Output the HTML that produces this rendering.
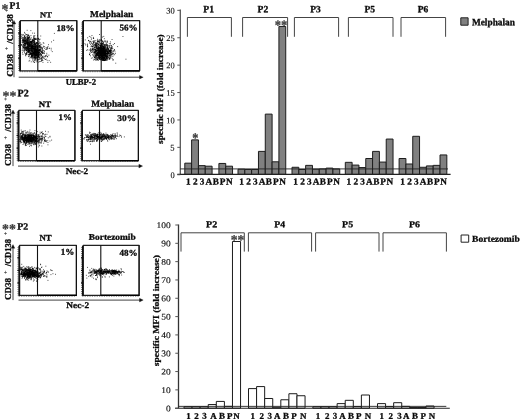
<!DOCTYPE html>
<html><head><meta charset="utf-8"><title>Figure</title>
<style>html,body{margin:0;padding:0;background:#fff}svg{display:block}</style></head>
<body>
<svg width="520" height="419" viewBox="0 0 520 419" font-family='"Liberation Serif", "DejaVu Serif", serif' fill="#0a0a0a" stroke="#0a0a0a" stroke-width="0.3" stroke-linejoin="round">
<rect width="520" height="419" fill="#fff" stroke="none"/>
<rect x="20.4" y="20.6" width="56.4" height="50.199999999999996" fill="#fff" stroke="#222" stroke-width="1.2"/>
<path d="M37.8 20.6 V70.8 H76.8 V20.6" fill="none" stroke="#111" stroke-width="1.1"/>
<line x1="37.8" y1="70.8" x2="76.8" y2="70.8" stroke="#000" stroke-width="1.3"/>
<line x1="20.0" y1="21.1" x2="20.0" y2="71.3" stroke="#111" stroke-width="1.7"/>
<line x1="18.799999999999997" y1="22.6" x2="18.799999999999997" y2="70.8" stroke="#111" stroke-width="1" stroke-dasharray="0.8 1.1" opacity="0.75"/>
<line x1="18.2" y1="33.1" x2="20.4" y2="33.1" stroke="#111" stroke-width="1.3"/>
<line x1="18.2" y1="45.7" x2="20.4" y2="45.7" stroke="#111" stroke-width="1.3"/>
<line x1="18.2" y1="58.2" x2="20.4" y2="58.2" stroke="#111" stroke-width="1.3"/>
<line x1="19.4" y1="71.7" x2="76.8" y2="71.7" stroke="#222" stroke-width="0.9" stroke-dasharray="1.3 1.1" opacity="0.55"/>
<path d="M39.4 59.5h.9M31.4 43.1h.9M23.9 43.3h.9M24.4 35.5h.9M32.3 48.4h.9M34.6 44.0h.9M31.0 46.7h.9M21.2 44.5h.9M33.1 61.1h.9M32.3 46.9h.9M39.0 52.5h.9M36.9 48.3h.9M32.4 53.3h.9M35.5 50.2h.9M24.0 45.5h.9M31.5 51.2h.9M32.4 53.7h.9M30.7 47.9h.9M35.3 43.5h.9M28.4 42.8h.9M43.9 53.6h.9M35.2 52.7h.9M29.2 37.6h.9M37.3 48.2h.9M35.7 42.5h.9M28.2 52.3h.9M40.3 45.0h.9M22.3 42.0h.9M35.7 50.5h.9M33.0 42.7h.9M34.8 55.2h.9M28.2 37.7h.9M26.1 48.4h.9M24.6 42.7h.9M29.4 46.2h.9M40.8 54.7h.9M39.7 51.0h.9M27.9 47.3h.9M32.0 40.9h.9M34.0 45.6h.9M24.6 40.7h.9M30.0 53.2h.9M31.7 47.2h.9M33.5 38.6h.9M39.1 45.6h.9M33.9 42.5h.9M24.7 41.4h.9M43.3 57.6h.9M27.1 43.3h.9M23.5 42.7h.9M27.3 48.9h.9M22.2 40.3h.9M25.5 40.1h.9M35.6 50.2h.9M34.8 55.5h.9M38.5 43.7h.9M34.5 39.4h.9M30.6 57.2h.9M29.7 44.3h.9M32.1 47.7h.9M31.2 43.0h.9M38.0 55.7h.9M29.6 47.9h.9M35.3 55.0h.9M33.6 52.2h.9M29.3 40.3h.9M27.8 50.8h.9M37.4 51.3h.9M27.3 46.6h.9M41.8 60.3h.9M26.6 44.3h.9M21.6 35.6h.9M32.2 47.8h.9M37.3 57.3h.9M36.4 57.1h.9M27.4 38.9h.9M33.3 42.0h.9M32.6 55.6h.9M24.3 47.7h.9M27.0 51.7h.9M36.1 51.5h.9M44.0 51.9h.9M26.5 54.6h.9M25.3 55.8h.9M30.7 41.2h.9M31.0 47.7h.9M32.3 46.7h.9M38.0 38.3h.9M27.4 43.6h.9M42.8 42.7h.9M28.8 39.6h.9M26.7 48.1h.9M33.7 56.3h.9M27.1 46.3h.9M38.6 56.1h.9M28.8 51.9h.9M25.0 53.5h.9M32.0 46.9h.9M32.8 52.6h.9M42.3 52.5h.9M28.6 48.9h.9M25.3 34.7h.9M36.4 47.9h.9M38.3 45.5h.9M32.0 56.2h.9M34.4 50.6h.9M34.8 47.1h.9M31.5 39.9h.9M34.4 44.5h.9M28.1 49.2h.9M37.0 44.8h.9M44.0 51.0h.9M36.4 55.1h.9M32.5 48.7h.9M42.7 58.3h.9M33.9 38.7h.9M26.1 50.6h.9M32.3 42.5h.9M26.8 43.0h.9M35.5 51.6h.9M37.5 46.1h.9M37.4 47.8h.9M29.1 55.3h.9M31.5 46.5h.9M29.6 44.2h.9M41.1 60.0h.9M35.7 50.6h.9M37.8 50.3h.9M33.9 50.8h.9M31.6 56.3h.9M42.4 60.5h.9M35.6 47.1h.9M30.8 53.1h.9M38.6 55.8h.9M31.9 47.7h.9M36.4 49.5h.9M25.2 40.4h.9M30.1 48.3h.9M45.7 47.7h.9M34.1 48.2h.9M33.0 55.4h.9M39.1 50.6h.9M27.4 37.6h.9M30.5 53.5h.9M29.3 49.9h.9M35.6 51.7h.9M38.0 50.3h.9M25.6 37.7h.9M37.0 48.3h.9M29.0 50.4h.9M25.9 53.8h.9M35.3 46.5h.9M26.9 50.6h.9M23.3 39.3h.9M31.0 48.1h.9M31.1 49.2h.9M28.6 45.0h.9M39.2 55.0h.9M28.1 54.7h.9M35.3 54.7h.9M31.7 45.3h.9M34.8 48.0h.9M34.1 33.2h.9M33.5 44.1h.9M37.1 54.4h.9M35.7 47.4h.9M33.8 46.7h.9M32.4 47.0h.9M25.3 54.6h.9M35.7 38.4h.9M36.8 42.6h.9M29.5 43.0h.9M27.5 46.4h.9M28.9 38.0h.9M31.0 49.0h.9M42.5 51.1h.9M23.3 40.7h.9M35.2 44.5h.9M26.3 47.4h.9M30.9 48.2h.9M26.9 40.3h.9M28.9 45.0h.9M28.8 48.1h.9M34.6 51.9h.9M34.1 43.9h.9M23.7 47.4h.9M31.1 47.7h.9M23.5 41.7h.9M26.9 40.0h.9M26.9 36.6h.9M31.6 53.6h.9M26.4 45.0h.9M23.9 46.7h.9M43.1 47.0h.9M29.5 53.9h.9M33.4 48.9h.9M37.0 58.1h.9M35.2 46.1h.9M26.5 34.7h.9M24.0 49.2h.9M30.3 39.3h.9M39.6 42.6h.9M39.2 49.8h.9M33.2 51.9h.9M32.7 54.8h.9M31.1 45.3h.9M26.7 36.8h.9M26.5 49.8h.9M36.4 57.5h.9M48.7 60.6h.9M34.3 41.7h.9M29.4 58.1h.9M34.4 48.1h.9M33.0 37.8h.9M25.6 36.9h.9M37.3 49.5h.9M33.3 42.8h.9M33.9 52.8h.9M41.0 61.0h.9M34.2 48.1h.9M25.6 40.8h.9M35.0 52.3h.9M31.1 56.1h.9M35.2 49.4h.9M29.8 46.7h.9M24.8 38.3h.9M33.3 45.1h.9M29.2 52.7h.9M29.7 53.4h.9M30.9 55.2h.9M34.0 39.1h.9M39.0 50.3h.9M32.0 40.5h.9M27.1 47.8h.9M40.2 58.2h.9M38.9 57.5h.9M32.2 33.1h.9M36.0 54.6h.9M26.0 42.2h.9M24.9 43.5h.9M30.7 46.8h.9M24.4 45.5h.9M28.8 50.9h.9M33.0 40.1h.9M21.6 42.2h.9M27.8 47.8h.9M36.2 50.0h.9M34.7 43.3h.9M38.2 50.5h.9M34.4 44.1h.9M30.4 30.6h.9M29.6 49.4h.9M25.2 39.2h.9M30.7 47.2h.9M25.7 47.8h.9M21.9 37.5h.9M39.7 46.4h.9M25.0 37.7h.9M26.4 40.5h.9M24.7 37.9h.9M41.5 49.1h.9M37.3 42.8h.9M34.5 42.2h.9M28.0 48.8h.9M27.6 34.4h.9M27.4 44.2h.9M34.7 43.6h.9M29.1 46.3h.9M25.6 46.4h.9M30.3 45.7h.9M28.6 40.6h.9M27.7 38.3h.9M32.1 51.2h.9M34.9 46.3h.9M41.9 57.6h.9M24.8 42.9h.9M35.6 56.4h.9M28.3 35.8h.9M29.9 53.8h.9M31.9 54.4h.9M36.4 58.4h.9M34.9 45.5h.9M33.9 62.4h.9M27.6 35.1h.9M44.7 56.7h.9M26.9 41.5h.9M21.0 45.3h.9M31.9 44.1h.9M28.2 43.2h.9M37.9 49.8h.9M40.0 47.4h.9M27.0 42.2h.9M27.5 44.6h.9M37.7 57.2h.9M24.0 50.1h.9M31.6 56.0h.9M29.9 41.9h.9M36.1 53.2h.9M28.0 45.5h.9M31.8 49.2h.9M31.4 48.6h.9M27.6 35.6h.9M39.7 50.1h.9M24.2 51.9h.9M38.4 56.7h.9M36.4 53.1h.9M24.7 43.7h.9M33.3 51.7h.9M34.1 43.2h.9M27.1 43.0h.9M29.7 41.6h.9M33.0 48.0h.9M34.8 38.8h.9M28.3 50.3h.9M31.2 44.0h.9M32.0 47.0h.9M36.9 56.6h.9M36.9 52.1h.9M36.0 54.1h.9M38.6 41.2h.9M33.2 48.7h.9M32.0 46.2h.9M30.5 49.4h.9M32.3 48.4h.9M24.0 36.3h.9M26.1 34.6h.9M27.6 40.5h.9M27.9 42.2h.9M45.1 59.5h.9M25.9 41.5h.9M24.4 39.1h.9M28.7 45.5h.9M26.9 49.2h.9M35.2 59.9h.9M22.5 46.0h.9M28.6 36.9h.9M29.0 37.0h.9M30.8 61.8h.9M39.5 61.5h.9M38.8 42.9h.9M33.7 49.3h.9M33.8 42.9h.9M38.8 52.9h.9M27.8 46.2h.9M22.9 47.8h.9M32.1 46.8h.9M28.2 45.1h.9M31.9 45.3h.9M37.3 51.6h.9M30.4 42.0h.9M38.9 58.4h.9M35.5 39.5h.9M28.7 51.1h.9M31.2 54.1h.9M28.1 49.8h.9M34.4 35.6h.9M28.4 44.3h.9M26.9 39.9h.9M41.3 52.0h.9M36.1 42.6h.9M33.6 44.5h.9M34.4 53.3h.9M28.1 45.1h.9M26.2 50.2h.9M42.5 56.0h.9M27.7 41.4h.9M29.2 50.8h.9M26.1 52.3h.9M23.1 42.6h.9M39.6 61.4h.9M28.4 49.8h.9M47.4 62.4h.9M46.4 49.2h.9M36.9 38.9h.9M41.3 48.1h.9M36.3 54.8h.9M33.1 39.9h.9M30.9 41.8h.9M39.7 49.0h.9M25.1 47.2h.9M38.9 50.5h.9M32.8 50.7h.9M27.8 38.8h.9M34.5 47.0h.9M22.1 46.7h.9M33.8 49.3h.9M26.1 43.1h.9M35.0 51.8h.9M25.6 39.2h.9M33.2 49.2h.9M36.5 43.7h.9M37.0 59.9h.9M37.2 51.1h.9M36.9 43.3h.9M28.1 56.6h.9M36.3 46.4h.9M27.3 38.9h.9M41.9 49.7h.9M29.2 36.2h.9M36.0 49.7h.9M34.2 57.4h.9M32.0 41.1h.9M24.4 43.8h.9M39.6 45.2h.9M29.4 45.3h.9M35.3 44.5h.9M33.0 52.4h.9M30.8 46.3h.9M35.0 52.4h.9M39.2 45.6h.9M39.0 50.2h.9M23.6 39.9h.9M23.0 41.5h.9M37.7 38.5h.9M23.3 46.9h.9M29.0 50.2h.9M22.4 42.0h.9M35.8 56.2h.9M41.6 52.5h.9M25.3 41.8h.9M38.7 46.3h.9M42.9 46.2h.9M34.6 44.6h.9M23.5 49.3h.9M25.2 44.4h.9M27.9 46.0h.9M26.9 49.2h.9M35.0 49.6h.9M30.2 57.2h.9M26.5 42.1h.9M36.0 49.7h.9M28.5 40.2h.9M32.3 41.5h.9M29.4 39.9h.9M41.2 51.0h.9M33.9 50.1h.9M35.6 48.7h.9M35.9 50.4h.9M22.6 47.5h.9M32.4 45.8h.9M23.3 40.7h.9M22.0 52.8h.9M34.0 48.2h.9M24.6 41.6h.9M29.5 43.7h.9M30.5 51.1h.9M38.2 43.5h.9M29.8 44.2h.9M23.6 48.1h.9M28.9 52.0h.9M33.7 47.0h.9M32.9 46.0h.9M33.4 54.6h.9M36.4 49.7h.9M26.7 43.6h.9M31.4 42.3h.9M30.2 46.6h.9M40.5 51.7h.9M46.3 49.0h.9M30.1 53.2h.9M33.6 45.1h.9M29.4 54.5h.9M28.1 46.9h.9M33.8 55.1h.9M22.3 40.7h.9M35.0 53.7h.9M29.1 54.2h.9M30.5 50.5h.9M26.1 48.8h.9M26.3 50.7h.9M36.6 60.2h.9M28.2 39.2h.9M36.4 51.7h.9M27.6 37.8h.9M36.2 39.3h.9M28.0 51.1h.9M29.4 48.6h.9M34.2 52.0h.9M37.9 54.3h.9M28.6 39.0h.9M29.1 42.4h.9M33.6 55.1h.9M36.1 46.0h.9M32.3 47.7h.9M27.9 52.4h.9M35.0 51.2h.9M26.2 50.6h.9M29.6 46.1h.9M29.3 48.7h.9M30.9 56.3h.9M30.2 45.1h.9M40.2 56.2h.9M35.5 52.4h.9M30.7 48.6h.9M34.5 49.5h.9M27.9 42.2h.9M28.8 41.9h.9M25.3 43.4h.9M36.7 48.6h.9M34.1 41.4h.9M35.9 43.5h.9M35.5 45.5h.9M27.1 38.0h.9M22.7 41.2h.9M24.7 42.3h.9M38.4 46.5h.9M28.9 45.3h.9M27.0 44.6h.9M32.5 53.5h.9M26.3 43.2h.9M30.0 53.0h.9M24.5 44.3h.9M36.0 52.9h.9M26.4 38.9h.9M29.3 38.0h.9M36.5 50.9h.9M29.4 43.3h.9M34.1 47.1h.9M34.3 46.2h.9M37.9 41.9h.9M24.0 52.9h.9M37.8 59.6h.9M25.8 48.1h.9M37.5 55.5h.9M29.8 54.3h.9M33.7 41.5h.9M47.0 56.5h.9M39.2 47.7h.9M24.9 48.5h.9M36.3 45.9h.9M32.6 40.7h.9M23.6 46.9h.9M37.9 52.8h.9M40.9 54.4h.9M32.9 48.1h.9M33.7 50.4h.9M24.9 43.4h.9M28.6 61.1h.9M39.0 47.1h.9M34.9 39.6h.9M31.4 57.1h.9M31.5 54.3h.9M28.6 48.2h.9M33.4 36.4h.9M25.8 54.4h.9M25.6 50.6h.9M42.2 52.9h.9M37.5 52.6h.9M27.1 48.0h.9M33.8 43.2h.9M28.1 38.1h.9M28.8 45.6h.9M24.6 33.4h.9M35.4 56.3h.9M25.1 44.1h.9M26.7 30.3h.9M44.7 56.1h.9M21.9 48.9h.9M35.7 57.3h.9M35.8 52.5h.9M40.3 50.6h.9M32.6 42.0h.9M23.6 44.0h.9M32.5 39.2h.9M33.4 53.8h.9M22.8 40.7h.9M42.1 48.5h.9M34.7 53.3h.9M32.2 48.4h.9M34.7 50.6h.9M32.0 39.5h.9M32.6 43.6h.9M38.2 39.3h.9M37.5 51.2h.9M23.9 36.5h.9M37.9 47.3h.9M30.5 47.1h.9M37.1 35.8h.9M39.0 47.0h.9M28.4 48.9h.9M33.4 35.8h.9M34.9 48.3h.9M24.3 40.0h.9M40.6 48.9h.9M27.9 37.4h.9M26.4 38.9h.9M31.1 56.5h.9M37.8 56.1h.9M24.7 48.1h.9M26.3 39.6h.9M35.8 49.1h.9M47.2 56.9h.9M29.0 50.0h.9M23.5 46.5h.9M41.2 51.8h.9M27.7 51.3h.9M23.7 45.0h.9M27.6 46.7h.9M25.9 47.5h.9M34.6 58.5h.9M28.6 48.1h.9M32.7 40.5h.9M30.3 41.7h.9M34.1 52.0h.9M27.9 48.9h.9M27.4 45.6h.9M34.4 51.9h.9M34.9 58.3h.9M26.8 43.8h.9M23.7 39.8h.9M27.7 47.4h.9M29.2 44.4h.9M31.5 45.5h.9M30.9 41.6h.9M27.4 38.4h.9M36.6 55.0h.9M35.3 51.2h.9M27.1 47.9h.9M23.3 50.9h.9M32.6 56.3h.9M26.4 49.9h.9M41.3 58.1h.9M32.9 53.9h.9M28.0 54.9h.9M23.5 38.7h.9M31.1 42.9h.9M42.4 56.9h.9M26.2 53.5h.9M39.8 49.8h.9M41.2 59.0h.9M27.7 42.2h.9M33.0 54.4h.9M41.2 60.8h.9M27.9 35.6h.9M37.9 57.2h.9M31.0 47.5h.9M34.2 51.2h.9M31.5 42.0h.9M22.1 42.9h.9M30.0 54.1h.9M24.1 32.4h.9M41.9 51.1h.9M26.4 46.5h.9M41.0 58.4h.9M36.7 55.2h.9M29.1 46.4h.9M33.7 58.3h.9M33.4 47.0h.9M30.2 45.1h.9M24.8 46.3h.9M39.4 49.7h.9M33.9 54.6h.9M26.7 44.2h.9M22.5 50.9h.9M42.2 52.1h.9M44.0 58.8h.9M32.6 50.6h.9M35.4 47.0h.9M38.4 52.8h.9M43.3 53.2h.9M34.6 39.0h.9M27.0 40.5h.9M37.1 46.9h.9M38.6 48.4h.9M37.2 47.1h.9M23.2 45.9h.9M29.5 49.0h.9M28.7 56.5h.9M33.6 39.3h.9M33.2 41.3h.9M37.4 55.2h.9M45.0 55.7h.9M27.8 49.7h.9M22.2 39.7h.9M24.5 40.3h.9M22.6 34.5h.9M23.8 45.1h.9M31.2 46.7h.9M34.1 52.8h.9M34.1 60.0h.9M32.9 50.1h.9M27.8 51.2h.9M40.3 36.0h.9M36.3 44.0h.9M33.3 48.7h.9M22.8 35.1h.9M29.3 60.3h.9M22.9 40.4h.9M29.1 44.5h.9M38.3 62.2h.9M30.7 49.1h.9M28.9 54.4h.9M30.6 50.5h.9M29.7 52.4h.9M30.6 42.2h.9M43.4 43.3h.9M32.1 45.7h.9M25.1 55.1h.9M33.2 46.0h.9M25.2 45.7h.9M31.0 45.7h.9M26.7 52.9h.9M32.4 46.8h.9M22.8 38.3h.9M35.8 45.5h.9M35.2 48.7h.9M33.6 50.3h.9M28.2 44.0h.9M30.6 50.3h.9M46.7 60.3h.9M22.5 54.4h.9M30.2 42.8h.9M31.8 47.1h.9M32.7 47.7h.9M30.8 53.8h.9M42.0 53.6h.9M41.3 57.8h.9M38.8 52.7h.9M32.4 52.1h.9M24.7 43.9h.9M23.6 47.9h.9M32.4 51.0h.9M28.8 41.6h.9M37.3 48.1h.9M29.6 46.4h.9M34.0 49.0h.9M24.2 37.6h.9M37.6 48.9h.9M29.4 41.3h.9M37.1 52.9h.9M27.5 35.7h.9M42.7 50.4h.9M23.4 40.2h.9M23.6 42.9h.9M27.4 38.6h.9M35.4 44.8h.9M27.4 39.1h.9M27.1 42.2h.9M27.7 52.1h.9M37.9 52.5h.9M34.7 46.5h.9M21.5 44.7h.9M40.0 48.1h.9M26.5 40.7h.9M22.4 45.3h.9M23.9 50.6h.9M41.8 53.4h.9M30.7 42.2h.9M36.9 50.7h.9M21.3 36.6h.9M34.1 46.0h.9M33.9 49.9h.9M40.3 51.6h.9M37.9 56.8h.9M39.6 49.9h.9M32.8 61.8h.9M29.7 43.0h.9M31.8 41.0h.9M25.5 41.6h.9M29.2 51.4h.9M23.9 42.1h.9M32.7 46.3h.9M35.8 61.8h.9M24.0 38.4h.9M27.7 42.2h.9M27.5 47.4h.9M30.5 35.6h.9M41.1 52.7h.9M28.3 51.5h.9M30.3 45.4h.9M25.3 48.9h.9M36.5 45.4h.9M27.4 51.7h.9M26.3 42.2h.9M26.0 43.0h.9M36.6 50.4h.9M37.5 53.8h.9M30.9 37.9h.9M36.1 49.5h.9M27.7 48.0h.9M37.3 54.4h.9M27.6 44.9h.9M46.9 48.7h.9M31.5 47.4h.9M40.8 55.7h.9M32.4 46.2h.9M39.1 51.8h.9M30.4 47.6h.9M35.5 49.7h.9M32.7 52.2h.9M26.3 43.1h.9M31.5 51.0h.9M34.6 46.4h.9M24.3 41.3h.9M27.7 50.0h.9M35.1 49.6h.9M24.0 36.1h.9M31.8 50.8h.9M33.4 47.0h.9M34.7 38.3h.9M38.5 59.3h.9M32.1 48.9h.9M29.7 51.1h.9M25.1 40.6h.9M33.6 40.7h.9M34.2 51.2h.9M30.9 44.3h.9M42.4 50.3h.9M32.0 51.9h.9M30.9 52.6h.9M31.0 48.4h.9M31.0 50.5h.9M26.8 49.5h.9M37.7 45.0h.9M21.3 34.4h.9M25.8 47.9h.9M31.4 57.4h.9M41.3 44.3h.9M28.5 44.0h.9M41.4 57.0h.9M37.0 45.9h.9M44.2 48.3h.9M31.2 41.9h.9M25.2 45.2h.9M25.2 47.5h.9M34.4 49.2h.9M35.1 55.4h.9M38.1 44.7h.9M35.2 54.2h.9M28.6 43.6h.9M38.8 54.9h.9M31.9 55.3h.9M37.1 59.7h.9M28.5 51.0h.9M41.9 47.7h.9M30.0 44.6h.9M34.1 54.9h.9M41.4 51.9h.9M33.2 53.0h.9M38.5 49.6h.9M39.8 44.0h.9M32.8 40.5h.9M28.0 41.1h.9M42.5 62.4h.9M36.1 50.7h.9M32.2 51.6h.9M34.3 44.9h.9M26.0 47.2h.9M45.8 59.1h.9M30.8 46.3h.9M33.9 50.3h.9M21.7 50.3h.9M34.0 51.7h.9M28.1 51.4h.9M37.6 46.7h.9M37.7 46.8h.9M24.6 40.5h.9M24.9 43.3h.9M28.7 46.6h.9M34.1 57.5h.9M34.0 51.4h.9M34.2 53.2h.9M36.9 51.8h.9M23.4 37.6h.9M32.9 46.3h.9M28.3 42.7h.9M26.3 50.4h.9M36.1 42.9h.9M32.2 47.6h.9M28.0 51.0h.9M33.1 48.5h.9M25.4 49.1h.9M32.6 49.4h.9M26.5 52.6h.9M24.3 40.6h.9M28.8 46.9h.9M39.8 54.9h.9M31.8 46.6h.9M33.5 52.7h.9M26.2 53.9h.9M30.9 51.6h.9M28.5 53.0h.9M37.6 52.4h.9M35.1 47.6h.9M25.1 50.0h.9M23.2 39.9h.9M23.4 37.7h.9M28.3 50.1h.9M24.7 47.5h.9M25.4 47.5h.9M39.6 39.2h.9M31.5 56.0h.9M31.2 56.0h.9M38.5 52.7h.9M21.9 38.4h.9M41.0 47.7h.9M24.0 40.7h.9M39.2 52.1h.9M21.1 38.2h.9M35.4 55.7h.9M40.9 55.2h.9M34.0 43.4h.9M27.3 37.6h.9M30.1 48.7h.9M31.3 42.1h.9M34.7 54.0h.9M39.0 39.7h.9M34.5 54.5h.9M35.7 49.8h.9M32.6 46.6h.9M26.6 39.2h.9M34.6 52.0h.9M36.8 49.9h.9M37.1 61.2h.9M26.9 41.6h.9M24.5 41.5h.9M23.0 44.4h.9M35.3 56.0h.9M39.4 49.6h.9M32.2 43.4h.9M31.4 47.7h.9M34.3 48.5h.9M24.1 48.6h.9M30.1 39.0h.9M40.8 55.3h.9M36.3 53.0h.9M27.1 46.1h.9M35.2 50.1h.9M38.0 50.0h.9M31.6 44.0h.9M27.7 43.2h.9M32.3 40.9h.9M31.7 45.5h.9M35.2 47.6h.9M35.1 44.5h.9M33.3 46.7h.9M37.9 52.8h.9M37.6 48.1h.9M27.1 44.7h.9M24.4 41.9h.9M39.1 45.7h.9M27.3 45.4h.9M27.4 42.6h.9M32.7 44.4h.9M33.4 49.9h.9M34.5 50.0h.9M27.0 48.2h.9M30.8 47.8h.9M24.0 43.6h.9M30.7 42.2h.9M26.1 42.0h.9M31.1 43.7h.9M24.0 43.5h.9M23.2 44.4h.9M25.5 42.9h.9M38.2 39.0h.9M22.4 39.5h.9M30.1 41.8h.9M24.9 40.4h.9M24.5 44.0h.9M26.6 43.7h.9M31.2 50.8h.9M27.0 42.5h.9M33.7 36.9h.9M31.4 42.4h.9M36.6 48.3h.9M25.4 49.5h.9M27.5 40.3h.9M33.9 38.2h.9M29.9 50.1h.9M23.0 47.6h.9M29.0 43.0h.9M39.6 49.9h.9M33.3 38.1h.9M31.4 49.2h.9M26.1 40.9h.9M29.7 41.9h.9M36.5 53.1h.9M35.6 55.0h.9M31.1 44.0h.9M23.5 45.5h.9M24.5 37.0h.9M46.3 53.3h.9M32.0 50.6h.9M34.8 48.5h.9M34.2 48.2h.9M28.0 43.9h.9M34.9 52.8h.9M33.7 40.4h.9M29.6 48.9h.9M28.5 48.2h.9M31.7 53.7h.9M37.8 54.3h.9M27.7 44.0h.9M28.7 48.0h.9M35.7 46.5h.9M37.8 53.2h.9M30.1 42.9h.9M31.5 47.0h.9M30.4 45.2h.9M32.8 44.8h.9M34.5 39.4h.9M31.4 44.6h.9M28.5 47.1h.9M21.7 40.7h.9M29.2 43.4h.9M26.8 48.3h.9M31.0 41.4h.9M25.5 49.0h.9M31.7 49.3h.9M31.1 48.2h.9M27.5 39.8h.9M24.7 38.9h.9M42.3 56.5h.9M31.3 46.6h.9M27.8 37.7h.9M40.4 46.9h.9M29.3 45.2h.9M31.3 55.1h.9M31.7 53.5h.9M32.2 57.9h.9M35.1 57.6h.9M33.7 54.5h.9M36.3 54.2h.9M34.3 56.7h.9M35.9 54.2h.9M37.0 47.3h.9M32.4 55.2h.9M34.1 53.3h.9M31.4 53.1h.9M38.4 52.8h.9M32.5 53.3h.9M37.6 52.4h.9M31.0 54.6h.9M34.1 54.4h.9M30.8 51.3h.9M34.2 54.8h.9M39.3 57.4h.9M37.8 56.3h.9M37.6 55.6h.9M36.6 53.0h.9M33.8 57.2h.9M32.1 52.6h.9M34.4 54.5h.9M33.3 52.9h.9M33.0 52.2h.9M34.0 62.2h.9M32.1 60.0h.9M31.9 54.4h.9M34.8 55.5h.9M34.2 51.3h.9M33.6 53.2h.9M31.3 53.8h.9M35.2 50.3h.9M31.7 56.0h.9M32.7 52.4h.9M33.5 52.4h.9M36.3 54.5h.9M40.2 53.1h.9M35.9 52.3h.9M37.3 50.3h.9M32.9 53.5h.9M41.8 59.4h.9M39.9 54.0h.9M31.2 55.4h.9M37.6 52.3h.9M39.8 58.8h.9M30.8 53.0h.9M34.3 53.4h.9M34.6 54.1h.9M34.4 60.3h.9M33.8 51.0h.9M37.9 56.5h.9M32.2 51.8h.9M32.8 48.7h.9M31.8 55.1h.9M31.7 53.4h.9M34.3 52.5h.9M36.2 54.4h.9M38.1 54.8h.9M33.5 58.1h.9M35.7 55.2h.9M35.7 53.2h.9M32.7 57.1h.9M33.2 53.2h.9M37.2 56.5h.9M35.1 58.9h.9M34.5 59.8h.9M38.4 54.5h.9M34.4 56.8h.9M30.8 55.8h.9M36.7 57.9h.9M38.5 54.8h.9M36.2 51.6h.9M36.4 52.1h.9M31.6 58.3h.9M39.4 53.7h.9M35.8 59.9h.9M31.7 57.8h.9M34.2 55.6h.9M34.8 57.8h.9M38.0 53.6h.9M38.0 56.4h.9M38.5 51.4h.9M37.2 54.0h.9M35.6 50.2h.9M40.3 53.9h.9M36.1 50.4h.9M34.5 54.5h.9M35.3 51.3h.9M35.9 53.0h.9M37.2 51.2h.9M37.9 51.5h.9M32.2 55.2h.9M36.5 55.1h.9M33.6 53.3h.9M32.7 56.8h.9M30.6 51.0h.9M32.1 55.3h.9M31.3 56.0h.9M30.8 49.7h.9M35.8 55.0h.9M34.1 57.3h.9M33.9 52.7h.9M34.5 57.3h.9M34.6 58.7h.9M38.4 56.7h.9M37.3 57.2h.9M36.2 48.1h.9M35.5 53.7h.9M32.1 49.3h.9M35.3 51.3h.9M35.0 52.0h.9M35.8 51.6h.9M35.6 53.9h.9M33.9 53.3h.9M35.7 47.4h.9M30.2 54.2h.9M35.1 54.6h.9M35.8 51.6h.9M38.2 55.9h.9M35.9 53.4h.9M33.2 52.5h.9M35.9 54.3h.9M37.1 54.6h.9M33.9 56.9h.9M31.5 50.6h.9M35.9 52.8h.9M31.4 50.3h.9M35.0 57.4h.9M38.5 53.7h.9M34.4 51.9h.9M39.7 53.8h.9M34.1 55.9h.9M37.9 54.1h.9M38.1 50.9h.9M36.1 55.5h.9M36.0 55.6h.9M35.4 55.4h.9M29.8 52.2h.9M37.1 51.2h.9M32.8 59.0h.9M35.2 54.7h.9M35.9 58.3h.9M34.3 51.9h.9M35.7 57.5h.9M30.6 53.7h.9M34.0 54.3h.9M36.6 54.8h.9M31.1 53.4h.9M34.7 53.9h.9M37.6 53.2h.9M33.4 53.6h.9M35.1 55.7h.9M30.7 50.6h.9M34.8 56.3h.9M34.9 54.6h.9M39.3 54.3h.9M47.0 47.7h.9M51.8 51.6h.9M43.2 53.0h.9M48.1 44.7h.9M50.2 62.3h.9M37.4 40.6h.9M44.2 46.6h.9M46.7 47.8h.9M46.1 55.9h.9M53.9 33.4h.9M48.8 48.2h.9M48.8 48.4h.9M47.5 46.5h.9M40.5 46.9h.9M50.7 48.3h.9M44.5 56.7h.9M51.0 41.9h.9M39.5 46.8h.9M48.4 55.2h.9M33.1 57.3h.9M45.4 49.5h.9M50.8 50.0h.9M46.4 54.9h.9M53.2 40.3h.9M34.0 40.7h.9" stroke="#000" stroke-width="0.9" fill="none" opacity="0.8"/>
<rect x="83.4" y="20.6" width="56.19999999999999" height="50.199999999999996" fill="#fff" stroke="#222" stroke-width="1.2"/>
<path d="M101.2 20.6 V70.8 H139.6 V20.6" fill="none" stroke="#111" stroke-width="1.1"/>
<line x1="101.2" y1="70.8" x2="139.6" y2="70.8" stroke="#000" stroke-width="1.3"/>
<line x1="83.0" y1="21.1" x2="83.0" y2="71.3" stroke="#111" stroke-width="1.7"/>
<line x1="81.80000000000001" y1="22.6" x2="81.80000000000001" y2="70.8" stroke="#111" stroke-width="1" stroke-dasharray="0.8 1.1" opacity="0.75"/>
<line x1="81.2" y1="33.1" x2="83.4" y2="33.1" stroke="#111" stroke-width="1.3"/>
<line x1="81.2" y1="45.7" x2="83.4" y2="45.7" stroke="#111" stroke-width="1.3"/>
<line x1="81.2" y1="58.2" x2="83.4" y2="58.2" stroke="#111" stroke-width="1.3"/>
<line x1="82.4" y1="71.7" x2="139.6" y2="71.7" stroke="#222" stroke-width="0.9" stroke-dasharray="1.3 1.1" opacity="0.55"/>
<path d="M114.0 49.7h.9M103.9 53.0h.9M106.1 44.9h.9M99.6 47.7h.9M96.2 46.9h.9M99.1 50.2h.9M97.1 53.8h.9M99.0 34.5h.9M108.0 50.5h.9M97.9 53.0h.9M103.0 52.4h.9M97.4 52.6h.9M93.8 58.9h.9M95.2 50.2h.9M101.9 53.2h.9M100.5 54.5h.9M100.3 48.8h.9M109.1 46.8h.9M100.7 40.2h.9M102.5 42.6h.9M104.8 51.6h.9M102.0 43.5h.9M95.6 52.9h.9M90.0 51.5h.9M92.0 50.9h.9M95.3 60.2h.9M106.5 49.0h.9M91.1 45.9h.9M100.8 45.8h.9M102.6 56.8h.9M100.8 48.8h.9M105.2 50.0h.9M105.6 50.0h.9M109.6 50.6h.9M95.5 51.2h.9M97.8 45.8h.9M100.5 55.3h.9M89.7 49.8h.9M100.3 50.4h.9M105.4 44.6h.9M104.6 50.4h.9M101.7 50.1h.9M99.4 48.2h.9M106.8 56.6h.9M104.2 49.0h.9M94.5 55.2h.9M106.6 53.5h.9M105.5 59.5h.9M113.0 59.8h.9M110.1 54.2h.9M105.8 53.0h.9M103.0 49.2h.9M105.0 59.9h.9M100.6 52.9h.9M104.8 52.1h.9M106.5 53.6h.9M95.4 45.5h.9M105.4 55.6h.9M107.4 53.7h.9M102.7 43.3h.9M108.9 47.5h.9M107.1 46.2h.9M98.1 52.3h.9M99.4 47.8h.9M106.3 56.0h.9M103.7 50.2h.9M97.3 48.8h.9M98.9 51.4h.9M105.7 51.4h.9M97.5 48.1h.9M108.4 53.5h.9M102.9 53.5h.9M104.8 53.0h.9M107.9 57.0h.9M86.9 49.7h.9M117.2 46.6h.9M102.4 57.9h.9M101.8 59.2h.9M95.2 44.5h.9M100.8 47.9h.9M96.2 54.5h.9M103.2 52.2h.9M99.7 53.2h.9M101.2 48.0h.9M104.5 54.3h.9M102.2 55.8h.9M96.0 50.6h.9M99.1 58.9h.9M110.0 50.9h.9M96.1 54.0h.9M100.3 51.0h.9M96.3 54.7h.9M102.8 54.3h.9M103.4 47.3h.9M90.2 49.3h.9M98.5 48.8h.9M106.8 52.0h.9M109.7 53.8h.9M105.4 55.1h.9M106.0 45.7h.9M107.5 53.2h.9M96.7 54.8h.9M103.6 59.1h.9M105.6 54.4h.9M93.3 60.1h.9M109.5 57.0h.9M104.2 58.8h.9M97.3 55.3h.9M101.9 46.6h.9M103.7 54.1h.9M110.7 58.0h.9M93.5 40.6h.9M101.4 50.8h.9M96.9 43.7h.9M100.8 45.7h.9M98.2 56.3h.9M103.0 48.1h.9M96.0 50.4h.9M110.8 50.2h.9M110.8 48.7h.9M100.7 55.6h.9M97.8 51.9h.9M94.8 54.8h.9M107.8 49.1h.9M102.8 49.9h.9M105.1 56.8h.9M103.8 53.1h.9M114.1 43.5h.9M100.2 49.6h.9M100.7 55.6h.9M98.0 44.5h.9M95.9 53.8h.9M106.7 56.9h.9M110.1 50.1h.9M107.0 56.2h.9M100.9 47.9h.9M106.4 48.8h.9M100.3 46.6h.9M110.9 52.7h.9M99.2 50.4h.9M100.6 52.4h.9M92.9 44.8h.9M104.4 58.1h.9M96.5 52.1h.9M98.8 39.5h.9M100.2 46.0h.9M106.3 51.3h.9M101.6 44.1h.9M102.5 41.6h.9M102.9 59.5h.9M95.5 55.9h.9M109.1 51.7h.9M107.6 53.0h.9M99.2 40.9h.9M96.2 43.4h.9M114.2 54.7h.9M100.9 44.6h.9M110.8 46.7h.9M109.5 58.6h.9M102.2 48.5h.9M101.6 44.8h.9M106.4 58.1h.9M98.2 53.3h.9M96.5 49.0h.9M102.2 52.2h.9M91.9 51.9h.9M97.1 44.0h.9M94.0 52.0h.9M99.7 55.4h.9M100.6 51.8h.9M109.4 57.1h.9M105.8 60.4h.9M102.9 46.8h.9M97.6 43.1h.9M103.6 50.0h.9M104.5 56.8h.9M97.6 52.5h.9M108.4 53.1h.9M106.7 51.4h.9M96.8 50.2h.9M92.0 54.8h.9M99.1 59.0h.9M95.4 52.0h.9M103.6 51.1h.9M103.8 48.1h.9M96.2 43.8h.9M98.8 47.3h.9M103.0 50.1h.9M98.3 47.7h.9M91.8 49.0h.9M104.0 45.0h.9M100.4 55.5h.9M98.2 52.7h.9M109.1 59.2h.9M98.2 55.1h.9M100.9 53.9h.9M98.8 52.5h.9M97.8 53.2h.9M111.1 45.5h.9M94.9 54.0h.9M106.0 50.4h.9M104.9 54.6h.9M104.7 59.8h.9M98.4 55.2h.9M102.9 48.4h.9M104.4 45.2h.9M94.0 57.1h.9M107.3 49.7h.9M97.1 39.3h.9M101.4 43.0h.9M110.1 43.7h.9M102.1 37.1h.9M99.9 59.1h.9M99.4 47.2h.9M99.3 53.8h.9M106.5 51.2h.9M90.9 52.5h.9M102.7 53.0h.9M98.9 55.8h.9M111.2 47.5h.9M102.2 46.3h.9M98.1 50.6h.9M104.4 47.6h.9M100.2 59.3h.9M104.5 56.1h.9M103.9 51.1h.9M104.0 55.1h.9M101.8 57.6h.9M101.8 56.9h.9M101.9 56.0h.9M98.2 48.5h.9M95.6 57.9h.9M104.5 53.4h.9M105.1 47.7h.9M102.3 49.2h.9M91.9 49.5h.9M97.1 59.3h.9M97.8 48.1h.9M107.0 52.4h.9M94.7 52.5h.9M96.1 47.3h.9M87.2 46.7h.9M111.7 52.3h.9M96.7 53.0h.9M100.2 51.6h.9M96.9 40.7h.9M105.7 54.6h.9M102.0 51.3h.9M105.6 55.5h.9M103.2 54.8h.9M100.7 49.8h.9M109.2 51.4h.9M112.4 56.6h.9M102.1 58.2h.9M99.2 50.7h.9M100.0 51.8h.9M104.6 46.4h.9M97.4 41.6h.9M105.7 57.2h.9M103.6 54.2h.9M104.6 54.6h.9M105.2 53.6h.9M96.5 56.6h.9M108.9 43.7h.9M100.5 45.6h.9M104.5 50.7h.9M109.4 58.9h.9M99.3 49.1h.9M98.7 54.8h.9M96.8 53.9h.9M94.3 57.0h.9M104.3 45.9h.9M97.6 52.3h.9M103.3 36.4h.9M102.9 60.4h.9M99.4 44.3h.9M108.3 54.0h.9M102.8 55.5h.9M95.2 47.6h.9M95.8 45.1h.9M100.1 46.0h.9M110.3 55.6h.9M106.2 43.3h.9M100.6 51.0h.9M102.6 54.5h.9M97.5 46.5h.9M112.8 51.6h.9M97.6 52.6h.9M100.5 47.7h.9M107.3 48.6h.9M97.2 54.4h.9M100.7 46.1h.9M100.4 49.5h.9M100.6 47.8h.9M104.9 50.3h.9M98.6 57.4h.9M96.8 55.6h.9M104.9 50.7h.9M102.9 43.9h.9M103.1 46.4h.9M97.2 52.9h.9M97.9 52.3h.9M103.9 57.9h.9M103.9 57.9h.9M97.8 49.5h.9M105.2 58.8h.9M104.2 49.3h.9M96.1 46.2h.9M107.7 47.2h.9M100.5 55.3h.9M104.1 48.4h.9M112.3 53.9h.9M103.2 56.6h.9M100.1 55.6h.9M101.0 47.1h.9M96.8 53.5h.9M102.3 51.2h.9M99.4 50.4h.9M106.0 58.4h.9M100.4 53.2h.9M92.0 44.7h.9M98.1 46.6h.9M105.4 41.0h.9M104.3 56.0h.9M113.4 50.5h.9M104.2 60.3h.9M106.7 47.4h.9M99.9 45.6h.9M102.1 55.7h.9M108.9 55.8h.9M106.5 58.2h.9M97.5 55.2h.9M106.9 51.5h.9M96.8 52.3h.9M102.6 55.8h.9M92.4 49.0h.9M112.4 60.1h.9M101.0 50.3h.9M100.4 46.6h.9M99.4 51.5h.9M95.5 50.9h.9M103.2 45.2h.9M99.4 43.4h.9M102.0 53.2h.9M99.1 52.1h.9M104.7 56.0h.9M94.8 49.5h.9M94.3 41.0h.9M107.1 56.7h.9M108.4 56.8h.9M99.2 52.9h.9M99.0 59.0h.9M89.5 52.9h.9M98.9 55.6h.9M108.1 49.2h.9M108.9 58.6h.9M95.6 44.0h.9M106.7 48.6h.9M103.0 51.9h.9M96.5 60.1h.9M109.6 53.2h.9M110.0 52.8h.9M103.1 50.5h.9M94.9 49.4h.9M96.8 53.7h.9M102.6 49.0h.9M108.5 54.7h.9M111.3 50.9h.9M99.8 47.8h.9M103.0 51.3h.9M106.0 49.1h.9M103.9 50.8h.9M100.2 50.7h.9M102.2 55.5h.9M107.1 52.8h.9M97.6 51.6h.9M100.8 50.5h.9M95.5 50.6h.9M92.3 57.8h.9M105.6 56.4h.9M96.9 52.8h.9M108.5 51.5h.9M96.2 50.8h.9M90.0 55.8h.9M104.1 44.8h.9M105.5 58.5h.9M105.2 55.9h.9M109.8 54.0h.9M109.1 51.7h.9M98.2 49.9h.9M96.4 53.6h.9M98.2 53.6h.9M111.0 50.0h.9M100.9 51.0h.9M108.3 51.5h.9M94.6 47.8h.9M101.9 60.5h.9M95.1 59.1h.9M94.3 53.1h.9M95.8 49.1h.9M89.4 53.9h.9M102.0 46.4h.9M90.7 50.5h.9M101.7 44.2h.9M104.3 51.6h.9M95.9 47.0h.9M89.0 54.6h.9M106.9 51.4h.9M95.2 45.2h.9M100.2 47.0h.9M103.2 47.4h.9M106.4 58.8h.9M98.6 47.2h.9M86.3 50.5h.9M103.7 47.1h.9M107.5 48.9h.9M95.6 55.7h.9M104.1 41.1h.9M98.1 44.6h.9M100.6 52.8h.9M99.3 52.5h.9M106.4 50.7h.9M95.1 46.0h.9M100.8 53.9h.9M97.5 48.4h.9M106.7 49.7h.9M102.6 52.7h.9M107.8 53.8h.9M101.4 50.3h.9M98.9 57.1h.9M112.8 44.6h.9M107.1 47.1h.9M98.5 49.9h.9M99.4 49.7h.9M94.2 47.6h.9M97.7 52.5h.9M95.0 51.1h.9M105.1 51.9h.9M101.1 48.2h.9M98.5 49.6h.9M106.3 47.0h.9M98.7 51.5h.9M96.9 54.9h.9M99.7 54.4h.9M104.4 60.2h.9M110.7 48.2h.9M94.9 45.0h.9M104.2 55.0h.9M101.7 51.7h.9M109.6 57.5h.9M102.9 55.4h.9M94.0 57.4h.9M112.4 53.8h.9M99.5 58.3h.9M99.2 52.2h.9M104.9 51.5h.9M105.4 42.0h.9M89.1 54.6h.9M104.5 53.5h.9M99.8 52.0h.9M104.1 46.1h.9M103.1 47.9h.9M112.6 55.0h.9M103.2 57.5h.9M106.7 57.6h.9M98.4 52.5h.9M106.4 53.7h.9M102.4 49.0h.9M102.8 59.5h.9M95.6 44.1h.9M95.6 43.1h.9M104.4 52.8h.9M108.9 58.4h.9M90.1 50.4h.9M114.5 51.2h.9M98.2 48.3h.9M109.9 50.5h.9M104.0 58.7h.9M102.8 52.2h.9M96.5 44.9h.9M107.4 45.7h.9M107.4 59.2h.9M109.6 51.9h.9M97.5 52.1h.9M108.5 55.6h.9M104.3 51.6h.9M106.6 42.1h.9M95.8 59.7h.9M104.3 56.0h.9M92.0 46.5h.9M99.6 51.3h.9M107.9 49.7h.9M102.5 48.3h.9M100.7 53.9h.9M104.0 57.5h.9M95.4 55.5h.9M104.2 48.1h.9M108.6 49.2h.9M99.9 54.6h.9M109.1 50.6h.9M109.4 55.0h.9M97.9 55.5h.9M102.2 48.2h.9M101.1 58.6h.9M103.6 50.9h.9M106.0 45.0h.9M105.2 59.5h.9M95.9 45.6h.9M97.4 50.5h.9M98.0 51.5h.9M96.7 53.0h.9M104.8 54.7h.9M98.9 56.2h.9M93.9 47.7h.9M101.4 58.8h.9M99.8 55.1h.9M110.7 48.7h.9M103.2 54.9h.9M105.3 55.1h.9M101.2 52.2h.9M94.8 55.1h.9M103.5 49.2h.9M111.1 53.1h.9M98.5 54.8h.9M104.1 55.7h.9M101.4 56.1h.9M102.5 58.5h.9M103.5 47.9h.9M96.6 54.6h.9M106.7 44.8h.9M105.0 52.0h.9M103.3 47.9h.9M96.2 48.4h.9M97.7 49.4h.9M102.4 52.4h.9M111.5 48.1h.9M99.6 52.4h.9M105.0 46.9h.9M94.5 52.7h.9M103.8 55.4h.9M105.2 44.3h.9M107.3 52.0h.9M112.5 51.1h.9M90.8 50.3h.9M102.8 53.9h.9M102.9 49.4h.9M93.3 50.3h.9M100.2 48.4h.9M102.2 50.5h.9M91.5 46.6h.9M97.6 50.2h.9M110.2 52.7h.9M104.7 41.2h.9M108.0 49.9h.9M104.6 46.6h.9M101.7 56.3h.9M101.7 53.2h.9M98.0 47.9h.9M103.2 51.2h.9M102.5 48.6h.9M99.9 55.8h.9M109.0 50.7h.9M98.6 52.4h.9M106.6 54.0h.9M107.4 51.6h.9M97.0 41.6h.9M106.2 53.8h.9M98.6 53.6h.9M96.0 56.8h.9M107.1 58.7h.9M99.6 59.3h.9M93.2 56.0h.9M108.5 51.3h.9M106.7 53.2h.9M109.3 51.6h.9M102.1 45.9h.9M112.4 48.8h.9M96.5 46.8h.9M102.3 52.4h.9M104.1 60.5h.9M106.9 45.0h.9M102.8 51.2h.9M105.7 53.1h.9M108.7 53.5h.9M111.9 48.1h.9M107.8 57.5h.9M98.2 44.7h.9M98.6 53.7h.9M110.3 45.3h.9M100.4 45.3h.9M105.9 53.3h.9M102.1 56.0h.9M103.4 60.0h.9M100.4 48.8h.9M101.9 51.9h.9M108.4 50.7h.9M99.2 48.3h.9M98.0 41.4h.9M102.6 54.8h.9M102.7 48.1h.9M106.6 56.3h.9M103.2 55.6h.9M101.3 54.2h.9M104.6 46.0h.9M99.3 48.1h.9M103.9 38.7h.9M103.3 52.2h.9M101.0 54.1h.9M94.3 52.5h.9M98.0 48.4h.9M108.9 51.0h.9M107.3 52.4h.9M100.3 49.9h.9M94.5 49.5h.9M102.6 59.6h.9M105.7 56.8h.9M97.2 47.7h.9M103.8 55.0h.9M96.5 57.0h.9M98.6 53.1h.9M99.5 55.7h.9M106.3 57.9h.9M97.3 52.4h.9M113.3 53.3h.9M104.3 53.0h.9M109.9 49.3h.9M104.3 52.8h.9M106.9 57.0h.9M95.7 47.2h.9M110.0 50.0h.9M101.7 48.7h.9M111.7 46.6h.9M102.8 50.2h.9M100.4 45.5h.9M97.8 50.6h.9M103.2 42.5h.9M102.3 47.5h.9M101.6 49.7h.9M101.3 50.7h.9M104.2 52.4h.9M93.2 38.5h.9M94.5 52.8h.9M93.3 45.8h.9M111.2 51.1h.9M100.8 53.7h.9M105.1 49.6h.9M102.4 41.3h.9M103.5 55.2h.9M92.9 55.9h.9M111.6 39.5h.9M100.8 59.3h.9M105.3 48.6h.9M98.6 49.7h.9M105.3 47.8h.9M94.2 51.9h.9M97.8 60.5h.9M96.5 52.9h.9M100.6 44.0h.9M99.1 41.1h.9M103.7 47.1h.9M95.4 42.9h.9M109.0 55.4h.9M96.6 50.5h.9M104.9 55.3h.9M101.8 40.8h.9M110.5 52.1h.9M108.9 45.9h.9M105.9 59.5h.9M107.7 46.0h.9M100.5 60.1h.9M97.5 55.2h.9M100.9 43.9h.9M106.7 58.3h.9M105.1 53.7h.9M107.0 42.0h.9M104.3 58.0h.9M100.5 53.7h.9M95.8 54.2h.9M103.2 50.1h.9M101.7 52.5h.9M102.9 56.2h.9M107.0 41.1h.9M103.1 58.2h.9M95.8 50.5h.9M114.1 49.9h.9M107.0 53.9h.9M94.4 49.9h.9M92.3 49.1h.9M106.5 56.0h.9M103.3 49.3h.9M105.1 58.9h.9M105.8 57.7h.9M104.2 54.7h.9M97.2 59.6h.9M96.3 46.7h.9M98.2 47.7h.9M108.7 51.6h.9M100.5 50.4h.9M101.8 59.1h.9M109.6 50.5h.9M110.7 56.2h.9M103.4 59.2h.9M102.5 53.9h.9M102.7 46.0h.9M95.4 46.2h.9M97.3 48.4h.9M99.0 57.7h.9M101.9 56.2h.9M103.6 47.6h.9M100.4 43.9h.9M92.9 53.1h.9M101.6 52.4h.9M106.8 45.2h.9M100.9 39.9h.9M97.2 54.6h.9M93.8 44.1h.9M105.6 51.3h.9M104.9 52.7h.9M99.6 48.8h.9M104.0 51.5h.9M105.6 49.3h.9M105.9 50.1h.9M107.8 57.8h.9M103.6 48.5h.9M95.2 51.7h.9M102.4 47.9h.9M96.0 48.8h.9M96.2 47.8h.9M97.1 53.7h.9M99.4 51.4h.9M94.8 57.0h.9M100.9 49.9h.9M96.9 54.5h.9M104.1 48.7h.9M110.0 47.9h.9M107.9 53.4h.9M94.6 49.7h.9M104.5 49.9h.9M102.1 51.4h.9M103.8 48.6h.9M111.2 54.6h.9M109.3 51.3h.9M102.7 46.8h.9M101.9 60.0h.9M103.3 48.2h.9M98.9 54.7h.9M102.9 52.2h.9M93.9 47.3h.9M98.2 41.0h.9M100.9 51.3h.9M106.1 55.8h.9M105.1 55.5h.9M109.4 51.0h.9M97.1 54.1h.9M107.0 55.1h.9M105.8 57.6h.9M103.9 47.2h.9M99.2 42.2h.9M106.5 49.6h.9M97.6 51.6h.9M97.6 41.8h.9M106.8 52.0h.9M101.4 56.0h.9M100.7 55.5h.9M108.3 49.0h.9M104.0 53.0h.9M96.6 59.6h.9M102.3 55.6h.9M103.7 51.4h.9M95.4 51.3h.9M97.2 59.2h.9M104.1 49.2h.9M99.9 57.7h.9M94.5 52.2h.9M102.5 47.2h.9M107.1 50.4h.9M107.2 53.6h.9M98.6 51.0h.9M106.9 47.6h.9M97.6 51.0h.9M104.6 55.5h.9M96.8 45.2h.9M101.3 50.7h.9M103.2 44.0h.9M99.2 45.8h.9M109.9 41.9h.9M97.0 48.6h.9M92.8 48.6h.9M97.8 43.3h.9M99.2 58.5h.9M102.4 59.1h.9M108.2 53.3h.9M100.2 40.1h.9M91.3 51.9h.9M102.0 52.8h.9M97.3 49.9h.9M96.2 55.9h.9M102.2 41.3h.9M98.7 58.0h.9M96.4 45.5h.9M96.8 48.5h.9M102.2 51.0h.9M102.5 48.9h.9M105.0 59.6h.9M97.2 52.9h.9M103.3 53.0h.9M101.5 54.4h.9M100.7 48.5h.9M97.8 55.4h.9M99.1 42.2h.9M99.3 49.0h.9M106.1 57.7h.9M96.2 57.9h.9M103.5 60.2h.9M99.1 55.1h.9M105.5 60.5h.9M95.3 51.2h.9M102.4 51.0h.9M97.3 50.2h.9M102.0 57.5h.9M99.2 52.9h.9M101.6 52.4h.9M94.5 51.2h.9M115.0 53.3h.9M104.1 54.1h.9M94.1 49.7h.9M100.6 51.1h.9M96.7 54.9h.9M95.1 57.3h.9M101.7 49.7h.9M94.0 53.0h.9M103.6 44.5h.9M110.2 51.6h.9M94.1 57.5h.9M96.5 46.7h.9M94.6 46.3h.9M100.3 46.1h.9M103.1 46.7h.9M101.1 40.0h.9M98.9 51.1h.9M104.8 50.2h.9M102.2 53.6h.9M97.2 54.2h.9M103.1 49.1h.9M95.4 57.8h.9M107.1 53.4h.9M107.1 60.0h.9M100.9 54.7h.9M104.5 54.7h.9M101.0 49.4h.9M105.5 53.4h.9M109.9 55.1h.9M102.1 45.4h.9M101.1 53.2h.9M101.0 48.0h.9M87.1 45.6h.9M102.3 60.2h.9M95.9 53.9h.9M95.1 56.0h.9M100.5 51.7h.9M103.4 48.6h.9M98.3 56.6h.9M94.5 46.2h.9M105.6 56.0h.9M97.5 47.4h.9M109.1 51.0h.9M98.9 51.0h.9M92.8 52.3h.9M99.6 57.0h.9M97.6 53.0h.9M98.6 48.7h.9M110.6 48.1h.9M101.1 53.8h.9M111.2 54.4h.9M99.5 53.0h.9M110.5 55.7h.9M97.2 57.4h.9M97.5 58.0h.9M104.4 55.6h.9M103.2 53.5h.9M87.0 44.1h.9M112.5 53.6h.9M101.1 55.0h.9M106.5 53.5h.9M107.0 55.8h.9M98.8 52.5h.9M106.9 47.8h.9M102.0 48.0h.9M100.4 43.7h.9M102.3 48.6h.9M107.3 50.7h.9M112.1 58.9h.9M102.3 54.1h.9M95.3 50.8h.9M98.4 44.8h.9M96.1 58.3h.9M98.9 51.4h.9M97.6 49.0h.9M98.9 50.8h.9M101.7 56.2h.9M101.2 50.9h.9M97.2 54.3h.9M103.7 50.2h.9M92.4 50.1h.9M90.9 58.2h.9M101.6 58.3h.9M100.4 56.0h.9M109.9 56.8h.9M96.2 43.0h.9M98.5 52.2h.9M95.3 40.7h.9M98.0 50.1h.9M91.7 49.4h.9M104.9 45.5h.9M101.7 50.6h.9M102.3 52.7h.9M96.1 53.3h.9M111.4 54.1h.9M93.7 48.6h.9M110.4 51.0h.9M101.7 44.3h.9M93.0 49.7h.9M102.7 47.7h.9M102.8 49.2h.9M90.3 48.4h.9M93.4 52.0h.9M102.8 53.5h.9M101.8 59.2h.9M107.0 48.2h.9M96.8 50.7h.9M93.6 51.1h.9M105.0 48.7h.9M99.6 47.4h.9M101.8 53.8h.9M95.9 55.5h.9M96.1 51.1h.9M102.5 46.2h.9M99.4 45.4h.9M106.2 51.0h.9M93.5 54.4h.9M100.4 54.6h.9M95.4 49.4h.9M100.4 55.9h.9M108.0 52.5h.9M100.5 46.4h.9M97.7 50.2h.9M100.0 47.6h.9M96.3 55.3h.9M108.4 55.6h.9M109.7 52.6h.9M99.2 52.3h.9M95.1 49.6h.9M98.3 41.1h.9M101.3 56.4h.9M105.1 54.3h.9M104.6 52.3h.9M104.8 52.6h.9M100.9 50.8h.9M106.3 53.5h.9M104.6 54.5h.9M102.0 56.9h.9M97.8 56.0h.9M100.3 51.9h.9M104.5 54.3h.9M105.2 55.2h.9M100.3 53.1h.9M101.4 53.0h.9M104.2 53.2h.9M105.5 53.8h.9M101.2 53.0h.9M108.2 48.8h.9M103.8 58.2h.9M104.8 60.2h.9M105.9 50.0h.9M101.8 52.0h.9M100.8 54.2h.9M104.5 57.4h.9M101.4 52.5h.9M102.4 55.1h.9M100.1 57.5h.9M105.3 52.5h.9M105.2 51.6h.9M99.9 50.1h.9M102.4 60.0h.9M97.7 52.9h.9M98.2 55.1h.9M104.5 50.5h.9M103.6 60.6h.9M100.5 54.7h.9M103.0 49.0h.9M98.6 56.3h.9M101.2 57.0h.9M98.4 54.3h.9M99.0 51.4h.9M103.3 59.8h.9M98.6 55.9h.9M103.1 58.8h.9M99.3 50.3h.9M102.7 52.5h.9M97.5 53.8h.9M101.2 55.3h.9M100.6 48.6h.9M94.8 56.1h.9M105.3 56.3h.9M98.1 57.6h.9M98.4 58.7h.9M102.2 57.4h.9M98.8 56.6h.9M95.3 58.6h.9M97.7 54.7h.9M104.1 57.7h.9M101.8 50.3h.9M105.4 53.9h.9M97.3 59.4h.9M109.4 54.0h.9M104.9 58.0h.9M102.8 57.0h.9M102.5 49.0h.9M99.3 53.6h.9M98.9 55.2h.9M101.3 57.0h.9M108.1 52.8h.9M103.8 60.3h.9M101.5 50.2h.9M101.4 58.7h.9M103.4 50.7h.9M102.4 54.6h.9M100.1 57.5h.9M93.9 59.5h.9M107.1 53.9h.9M98.6 50.7h.9M102.7 53.3h.9M95.5 48.9h.9M103.1 57.8h.9M97.5 59.3h.9M99.9 55.4h.9M98.5 58.1h.9M100.8 54.8h.9M102.5 52.8h.9M105.6 55.9h.9M99.5 51.4h.9M102.0 55.3h.9M100.9 51.5h.9M105.3 55.3h.9M104.4 56.7h.9M101.0 52.9h.9M97.5 57.7h.9M100.8 59.1h.9M105.9 56.6h.9M101.8 58.2h.9M106.7 54.8h.9M103.6 59.9h.9M98.7 57.1h.9M101.2 56.8h.9M104.5 54.7h.9M103.0 60.2h.9M103.9 56.9h.9M102.1 55.5h.9M105.0 54.6h.9M100.5 53.6h.9M100.8 55.8h.9M101.7 54.7h.9M108.6 52.2h.9M102.3 57.3h.9M101.8 55.6h.9M97.9 55.6h.9M104.1 52.7h.9M103.0 57.8h.9M101.9 55.7h.9M97.2 58.7h.9M108.6 59.0h.9M106.7 46.9h.9M99.4 53.6h.9M101.7 53.3h.9M95.9 54.2h.9M96.5 53.8h.9M104.1 60.4h.9M103.1 57.2h.9M95.9 51.3h.9M103.3 56.7h.9M101.8 52.8h.9M100.0 56.2h.9M106.8 54.7h.9M103.5 53.3h.9M105.7 57.2h.9M100.0 53.2h.9M104.0 55.1h.9M105.6 53.1h.9M99.2 51.0h.9M94.7 56.2h.9M98.0 52.1h.9M107.4 48.9h.9M99.9 48.0h.9M99.3 56.4h.9M101.3 57.9h.9M103.6 53.4h.9M101.5 56.3h.9M100.2 48.2h.9M100.0 55.8h.9M102.0 49.2h.9M98.7 56.9h.9M98.9 57.6h.9M97.9 49.2h.9M99.0 52.8h.9M102.7 53.2h.9M95.2 53.1h.9M104.5 49.9h.9M97.3 54.2h.9M101.9 52.8h.9M106.8 53.8h.9M97.5 55.3h.9M102.0 54.8h.9M105.9 56.4h.9M100.8 57.1h.9M103.8 55.8h.9M98.6 58.3h.9M103.1 51.3h.9M103.6 58.0h.9M103.5 54.0h.9M100.8 53.0h.9M100.3 58.6h.9M103.4 51.8h.9M102.9 58.7h.9M106.1 56.6h.9M99.0 54.0h.9M99.5 53.0h.9M97.5 55.2h.9M102.1 53.1h.9M107.2 53.7h.9M104.0 52.1h.9M99.3 50.5h.9M99.7 53.0h.9M102.3 48.6h.9M95.7 53.7h.9M99.4 57.5h.9M100.4 52.6h.9M102.8 49.8h.9M102.3 57.9h.9M104.2 52.6h.9M106.8 56.2h.9M102.9 58.1h.9M105.7 52.1h.9M101.5 54.4h.9M101.5 56.5h.9M103.6 54.7h.9M104.0 59.0h.9M93.1 38.4h.9M84.8 39.9h.9M91.2 43.1h.9M92.2 43.7h.9M96.6 45.4h.9M90.2 41.4h.9M94.1 42.0h.9M90.9 43.0h.9M88.9 36.4h.9M87.2 37.8h.9M88.0 40.6h.9M93.1 42.3h.9M87.1 46.6h.9M91.5 35.5h.9M91.3 38.1h.9M90.4 41.4h.9M93.0 37.4h.9M92.4 47.8h.9M86.8 44.8h.9M93.6 45.4h.9M97.3 42.8h.9M90.2 44.6h.9M94.0 44.7h.9M93.1 43.4h.9M93.3 42.5h.9M92.8 41.7h.9M90.3 37.1h.9M89.4 42.8h.9M89.4 43.2h.9M95.8 44.5h.9M89.2 41.6h.9M85.1 44.9h.9M97.0 41.1h.9M102.1 43.7h.9M94.9 45.3h.9M97.6 49.9h.9M95.8 50.7h.9M92.8 46.7h.9M88.7 50.1h.9M92.0 46.5h.9M92.5 41.3h.9M88.5 40.7h.9M90.9 39.3h.9M92.3 46.1h.9M93.4 42.2h.9M91.9 49.0h.9M95.1 43.9h.9M90.6 46.6h.9M84.5 43.7h.9M88.1 40.4h.9M109.5 51.7h.9M99.9 49.3h.9M122.5 36.5h.9M115.3 63.2h.9M110.0 51.7h.9M108.8 45.6h.9M95.1 43.0h.9M125.5 59.2h.9" stroke="#000" stroke-width="0.9" fill="none" opacity="0.8"/>
<rect x="18.8" y="110.4" width="56.10000000000001" height="50.19999999999999" fill="#fff" stroke="#222" stroke-width="1.2"/>
<path d="M36.5 110.4 V160.6 H74.9 V110.4" fill="none" stroke="#111" stroke-width="1.1"/>
<line x1="36.5" y1="160.6" x2="74.9" y2="160.6" stroke="#000" stroke-width="1.3"/>
<line x1="18.400000000000002" y1="110.9" x2="18.400000000000002" y2="161.1" stroke="#111" stroke-width="1.7"/>
<line x1="17.2" y1="112.4" x2="17.2" y2="160.6" stroke="#111" stroke-width="1" stroke-dasharray="0.8 1.1" opacity="0.75"/>
<line x1="16.6" y1="123.0" x2="18.8" y2="123.0" stroke="#111" stroke-width="1.3"/>
<line x1="16.6" y1="135.5" x2="18.8" y2="135.5" stroke="#111" stroke-width="1.3"/>
<line x1="16.6" y1="148.1" x2="18.8" y2="148.1" stroke="#111" stroke-width="1.3"/>
<line x1="17.8" y1="161.5" x2="74.9" y2="161.5" stroke="#222" stroke-width="0.9" stroke-dasharray="1.3 1.1" opacity="0.55"/>
<path d="M29.6 142.0h.9M22.9 140.9h.9M27.3 137.7h.9M41.3 139.7h.9M28.7 140.5h.9M36.3 138.9h.9M32.8 136.1h.9M26.6 137.1h.9M20.3 133.8h.9M27.9 137.5h.9M29.4 134.8h.9M28.5 139.1h.9M33.9 136.5h.9M26.4 132.8h.9M25.7 132.2h.9M19.8 141.0h.9M31.1 137.8h.9M32.0 140.2h.9M35.8 138.3h.9M25.2 136.6h.9M22.6 138.0h.9M23.9 141.1h.9M22.8 132.3h.9M41.4 132.6h.9M27.2 136.9h.9M39.8 133.7h.9M36.0 136.9h.9M28.0 136.6h.9M33.2 135.6h.9M28.5 139.4h.9M41.0 132.6h.9M38.9 141.8h.9M25.9 139.1h.9M26.0 142.9h.9M30.4 138.0h.9M27.5 137.9h.9M27.9 136.0h.9M42.4 134.1h.9M28.0 139.5h.9M27.7 138.0h.9M31.2 141.3h.9M26.1 137.3h.9M41.6 140.8h.9M22.6 144.5h.9M34.0 137.2h.9M21.4 138.8h.9M23.6 135.2h.9M20.6 136.6h.9M36.2 137.8h.9M19.6 139.7h.9M29.4 140.9h.9M36.8 138.5h.9M28.1 138.3h.9M21.6 139.9h.9M37.9 139.6h.9M27.5 137.7h.9M23.9 135.9h.9M26.4 136.0h.9M26.2 133.9h.9M31.3 138.8h.9M21.5 131.7h.9M28.9 141.6h.9M24.2 136.9h.9M25.3 140.1h.9M23.0 140.8h.9M27.0 140.9h.9M29.2 137.9h.9M19.4 136.0h.9M27.3 140.2h.9M30.6 136.7h.9M31.7 141.4h.9M28.0 137.2h.9M26.4 140.6h.9M32.5 136.2h.9M31.4 137.3h.9M24.1 141.6h.9M34.3 136.8h.9M29.5 139.9h.9M24.8 137.9h.9M33.3 133.8h.9M31.1 140.7h.9M32.3 135.0h.9M31.1 136.2h.9M32.7 140.4h.9M30.4 136.5h.9M25.2 140.6h.9M23.2 139.5h.9M32.3 137.9h.9M44.6 139.7h.9M43.0 133.8h.9M33.1 137.9h.9M28.7 133.2h.9M24.9 135.4h.9M27.6 140.9h.9M29.3 139.6h.9M24.5 137.0h.9M29.7 137.8h.9M37.2 136.6h.9M41.3 136.6h.9M35.9 136.8h.9M39.7 139.6h.9M31.6 140.7h.9M24.9 135.3h.9M24.5 136.6h.9M28.8 144.0h.9M26.4 139.8h.9M34.5 143.2h.9M39.4 136.8h.9M29.4 138.2h.9M20.1 133.9h.9M33.9 139.5h.9M28.1 141.8h.9M22.5 139.5h.9M29.1 138.3h.9M32.2 139.2h.9M30.7 139.3h.9M41.6 138.5h.9M35.6 140.6h.9M26.7 140.6h.9M23.4 141.4h.9M23.7 136.8h.9M31.1 140.9h.9M34.9 141.4h.9M27.7 135.8h.9M32.6 139.6h.9M22.8 140.8h.9M30.3 135.9h.9M31.9 135.0h.9M23.3 139.2h.9M20.2 140.0h.9M24.3 138.7h.9M35.2 140.2h.9M34.8 137.8h.9M38.2 136.2h.9M28.4 141.5h.9M37.5 142.6h.9M21.9 133.1h.9M31.5 134.7h.9M28.1 134.9h.9M35.9 141.2h.9M32.6 138.8h.9M29.3 137.7h.9M31.5 139.4h.9M32.0 137.5h.9M41.3 140.1h.9M38.1 142.8h.9M23.3 133.5h.9M37.2 138.0h.9M29.5 137.8h.9M29.8 135.3h.9M28.3 137.2h.9M28.9 132.0h.9M34.3 139.8h.9M29.2 140.3h.9M29.0 142.3h.9M29.1 135.7h.9M24.6 140.3h.9M25.0 140.6h.9M35.6 140.6h.9M35.6 138.4h.9M28.9 136.9h.9M25.0 133.9h.9M25.4 135.3h.9M19.7 138.3h.9M32.0 137.7h.9M37.9 141.7h.9M35.8 137.3h.9M19.3 139.4h.9M31.0 140.6h.9M31.7 142.2h.9M27.1 140.2h.9M23.2 131.7h.9M26.1 142.5h.9M24.6 137.1h.9M29.3 139.1h.9M22.7 138.4h.9M31.9 141.0h.9M24.1 142.5h.9M41.4 146.0h.9M20.3 138.4h.9M32.6 135.6h.9M33.1 136.6h.9M27.3 131.4h.9M24.4 138.6h.9M30.0 142.9h.9M21.6 131.8h.9M31.9 137.1h.9M30.9 140.6h.9M32.9 142.7h.9M37.8 134.5h.9M28.6 144.0h.9M26.4 141.0h.9M28.6 137.3h.9M39.3 142.0h.9M27.4 140.9h.9M20.5 135.9h.9M34.9 139.0h.9M22.1 139.3h.9M31.1 142.2h.9M35.2 138.1h.9M25.9 137.9h.9M27.5 142.5h.9M39.3 142.9h.9M31.5 138.0h.9M34.9 137.9h.9M30.5 134.0h.9M26.2 142.3h.9M22.3 133.9h.9M27.9 143.0h.9M38.4 138.1h.9M25.9 138.0h.9M22.9 138.2h.9M27.0 134.3h.9M25.2 137.5h.9M23.4 135.0h.9M34.9 144.1h.9M27.1 137.2h.9M32.3 138.1h.9M23.9 142.0h.9M22.2 136.0h.9M24.7 135.8h.9M27.5 140.0h.9M38.4 140.9h.9M29.2 135.1h.9M28.6 135.9h.9M28.4 141.2h.9M30.3 138.0h.9M24.1 138.1h.9M29.7 136.0h.9M25.7 140.7h.9M21.4 142.3h.9M32.9 140.2h.9M31.6 139.5h.9M30.9 134.2h.9M30.7 140.3h.9M19.7 140.2h.9M33.3 134.6h.9M25.9 137.5h.9M25.6 139.4h.9M20.7 137.3h.9M30.5 140.6h.9M29.3 137.8h.9M33.5 133.3h.9M35.1 138.0h.9M20.9 136.8h.9M26.9 136.2h.9M33.8 136.4h.9M20.6 135.3h.9M40.2 139.3h.9M25.0 135.5h.9M21.9 137.6h.9M31.8 141.9h.9M36.5 139.7h.9M24.7 135.8h.9M31.7 137.7h.9M31.4 134.9h.9M34.8 139.7h.9M29.3 139.6h.9M23.2 143.1h.9M27.8 137.0h.9M34.5 135.9h.9M38.2 137.2h.9M28.6 135.9h.9M34.3 132.8h.9M33.5 136.5h.9M29.3 135.3h.9M30.5 139.1h.9M32.8 139.6h.9M33.1 141.5h.9M26.5 135.1h.9M20.7 139.8h.9M26.6 141.3h.9M29.3 135.7h.9M34.9 144.3h.9M27.8 135.8h.9M23.5 140.6h.9M25.2 137.1h.9M33.5 138.8h.9M29.7 137.0h.9M24.8 138.7h.9M30.0 140.2h.9M25.8 139.2h.9M32.1 138.9h.9M32.7 141.5h.9M30.3 138.8h.9M22.7 139.0h.9M28.4 137.6h.9M23.6 139.7h.9M45.6 140.8h.9M29.6 139.7h.9M25.1 138.5h.9M24.7 136.4h.9M30.5 139.2h.9M28.3 136.3h.9M30.7 135.6h.9M34.0 137.9h.9M29.0 140.7h.9M32.6 135.2h.9M27.4 139.4h.9M21.9 131.4h.9M28.5 138.3h.9M31.8 138.9h.9M29.9 139.2h.9M37.9 140.4h.9M32.5 137.6h.9M36.3 138.5h.9M33.8 133.0h.9M30.6 138.3h.9M26.0 141.9h.9M31.6 138.3h.9M25.6 143.5h.9M33.9 140.6h.9M24.0 141.8h.9M32.6 138.0h.9M28.3 134.0h.9M33.2 135.8h.9M34.5 137.6h.9M25.0 139.3h.9M30.4 135.5h.9M28.5 140.1h.9M27.4 134.7h.9M27.4 135.7h.9M25.3 138.4h.9M28.7 137.9h.9M27.7 137.3h.9M30.0 143.9h.9M20.6 133.5h.9M33.9 136.6h.9M37.4 136.3h.9M25.9 140.6h.9M34.9 140.1h.9M31.9 138.3h.9M26.1 137.8h.9M37.2 141.0h.9M29.1 139.4h.9M34.4 142.1h.9M28.1 138.2h.9M31.1 145.8h.9M30.6 142.1h.9M19.9 134.9h.9M24.9 137.8h.9M30.2 139.6h.9M30.5 137.4h.9M45.7 140.7h.9M33.3 144.3h.9M35.2 140.5h.9M31.1 143.8h.9M22.0 135.4h.9M29.9 133.0h.9M24.0 141.3h.9M26.0 138.8h.9M33.5 135.6h.9M30.7 136.9h.9M22.0 137.3h.9M28.6 137.4h.9M24.7 140.8h.9M36.4 140.5h.9M28.4 135.6h.9M23.7 135.1h.9M30.3 141.1h.9M34.9 138.8h.9M26.5 138.8h.9M29.8 140.2h.9M38.5 137.2h.9M42.5 133.6h.9M22.4 137.4h.9M42.3 137.4h.9M36.1 138.0h.9M30.0 135.8h.9M43.6 139.3h.9M25.0 144.5h.9M30.2 139.7h.9M28.1 136.2h.9M19.8 137.4h.9M39.4 140.3h.9M27.9 141.3h.9M23.0 141.9h.9M28.9 136.2h.9M33.4 140.2h.9M26.8 138.9h.9M35.3 142.8h.9M23.5 130.9h.9M42.2 138.6h.9M26.3 139.5h.9M26.2 141.2h.9M21.0 137.4h.9M20.9 142.2h.9M27.4 141.4h.9M37.9 135.8h.9M27.6 140.4h.9M29.3 138.2h.9M34.4 141.4h.9M25.2 137.9h.9M33.2 139.4h.9M29.9 135.5h.9M40.3 138.6h.9M30.7 138.5h.9M29.4 138.9h.9M23.6 139.2h.9M36.7 140.1h.9M33.7 140.1h.9M29.2 143.5h.9M24.6 139.3h.9M35.6 139.7h.9M22.2 135.1h.9M39.1 136.5h.9M29.1 140.0h.9M29.6 133.7h.9M24.0 137.5h.9M29.6 139.0h.9M20.4 133.3h.9M35.1 137.2h.9M21.4 132.5h.9M32.5 135.3h.9M22.3 139.8h.9M31.0 140.2h.9M20.8 130.1h.9M22.6 137.3h.9M24.7 140.7h.9M31.3 135.8h.9M32.7 138.3h.9M25.9 141.4h.9M36.0 133.3h.9M27.8 138.0h.9M21.7 136.4h.9M23.7 138.3h.9M25.4 132.4h.9M36.7 141.5h.9M23.6 140.6h.9M42.1 135.1h.9M26.3 136.9h.9M32.6 137.9h.9M19.9 141.4h.9M26.9 140.4h.9M43.8 137.4h.9M26.3 140.8h.9M28.3 139.9h.9M29.0 146.3h.9M33.1 139.7h.9M29.8 139.6h.9M33.8 135.5h.9M29.3 138.3h.9M25.7 145.2h.9M33.7 139.7h.9M23.9 138.4h.9M27.1 138.1h.9M30.4 145.5h.9M37.7 143.8h.9M37.9 146.9h.9M24.7 134.7h.9M30.4 139.3h.9M29.2 136.8h.9M33.5 143.6h.9M30.5 138.0h.9M36.8 138.2h.9M26.7 139.2h.9M28.3 139.9h.9M31.1 139.8h.9M20.3 142.9h.9M32.8 139.6h.9M49.5 136.3h.9M33.8 138.6h.9M28.5 139.0h.9M22.9 141.9h.9M30.7 135.1h.9M21.1 138.8h.9M21.5 139.2h.9M31.2 137.0h.9M31.4 137.2h.9M41.1 138.1h.9M31.5 140.6h.9M29.6 139.4h.9M35.6 138.5h.9M31.2 137.7h.9M42.1 139.8h.9M34.5 130.6h.9M25.9 135.2h.9M29.3 137.3h.9M22.2 137.3h.9M34.3 141.8h.9M25.6 141.2h.9M25.0 140.0h.9M23.5 141.1h.9M44.1 138.7h.9M37.0 135.0h.9M24.9 145.6h.9M28.6 139.9h.9M23.9 141.5h.9M25.6 145.4h.9M21.9 139.0h.9M36.9 138.7h.9M20.6 139.3h.9M35.2 140.1h.9M35.5 135.0h.9M40.9 141.2h.9M26.0 139.7h.9M27.5 135.9h.9M26.6 141.5h.9M23.9 139.8h.9M21.3 133.4h.9M25.8 137.5h.9M30.2 141.2h.9M26.3 137.3h.9M34.0 140.0h.9M28.7 139.1h.9M34.9 134.2h.9M35.0 137.3h.9M27.6 137.1h.9M33.6 137.0h.9M28.0 140.2h.9M32.9 135.4h.9M30.3 138.9h.9M28.5 138.7h.9M31.1 137.1h.9M28.0 141.2h.9M22.1 137.8h.9M22.4 135.1h.9M26.3 138.8h.9M38.9 138.6h.9M35.1 140.4h.9M29.5 130.0h.9M29.8 138.7h.9M22.2 138.4h.9M38.6 135.9h.9M25.7 140.8h.9M30.9 141.3h.9M36.9 141.1h.9M44.0 140.5h.9M20.6 137.4h.9M33.1 139.8h.9M23.8 137.6h.9M38.5 138.7h.9M24.7 137.9h.9M24.8 143.9h.9M34.4 141.4h.9M24.6 136.4h.9M30.7 132.6h.9M35.7 135.4h.9M29.7 139.5h.9M23.9 139.1h.9M33.5 144.1h.9M31.6 143.7h.9M32.0 138.2h.9M34.6 137.4h.9M30.0 140.3h.9M36.4 139.7h.9M19.5 141.5h.9M30.1 137.7h.9M23.7 139.8h.9M31.2 140.5h.9M28.2 142.7h.9M27.3 139.5h.9M30.3 141.5h.9M24.5 137.4h.9M27.6 136.6h.9M24.7 134.9h.9M33.9 142.9h.9M22.6 140.2h.9M21.5 135.8h.9M26.9 138.7h.9M31.9 133.3h.9M20.5 138.2h.9M27.4 144.3h.9M27.2 136.6h.9M36.8 131.6h.9M24.9 138.4h.9M27.8 136.0h.9M28.0 134.8h.9M35.2 141.0h.9M33.4 136.2h.9M21.8 139.1h.9M29.8 139.7h.9M29.6 135.0h.9M24.5 143.7h.9M35.1 136.6h.9M41.3 138.9h.9M28.9 136.2h.9M38.8 139.4h.9M28.4 135.9h.9M20.7 138.4h.9M29.0 142.8h.9M23.1 137.1h.9M35.4 141.1h.9M24.6 142.2h.9M32.0 141.1h.9M31.2 141.3h.9M26.3 137.7h.9M36.0 140.0h.9M31.3 141.8h.9M30.5 139.7h.9M34.3 136.4h.9M27.1 139.0h.9M28.1 140.8h.9M32.0 138.2h.9M36.0 137.9h.9M24.4 139.1h.9M33.1 138.3h.9M22.0 136.6h.9M30.4 140.5h.9M40.4 138.8h.9M27.5 132.5h.9M37.3 141.5h.9M29.0 136.5h.9M23.9 142.3h.9M33.9 142.4h.9M28.1 141.7h.9M19.9 141.9h.9M28.8 135.2h.9M26.4 135.6h.9M30.7 136.6h.9M20.7 137.0h.9M27.5 139.0h.9M33.5 142.3h.9M31.6 143.2h.9M35.0 135.2h.9M27.7 139.0h.9M32.8 137.9h.9M38.9 145.7h.9M28.5 135.3h.9M28.7 136.9h.9M19.7 136.8h.9M25.9 137.3h.9M34.9 141.8h.9M31.6 137.7h.9M31.7 138.7h.9M30.4 135.9h.9M25.1 136.9h.9M28.9 138.3h.9M27.0 142.6h.9M29.8 139.2h.9M23.2 137.8h.9M32.0 138.5h.9M31.1 136.0h.9M31.4 135.8h.9M26.1 136.2h.9M30.1 141.6h.9M30.9 136.2h.9M29.8 141.4h.9M33.7 140.2h.9M21.7 136.5h.9M24.6 136.9h.9M30.5 138.7h.9M26.7 139.9h.9M24.4 137.3h.9M29.7 134.8h.9M23.5 134.3h.9M22.2 137.7h.9M28.2 139.4h.9M31.1 135.5h.9M41.0 143.0h.9M21.1 136.1h.9M25.9 138.8h.9M32.9 138.7h.9M34.5 141.1h.9M24.1 138.5h.9M35.0 137.6h.9M36.3 139.2h.9M39.2 139.3h.9M38.6 134.7h.9M38.3 140.3h.9M26.5 141.3h.9M27.3 140.6h.9M35.1 141.8h.9M43.2 143.2h.9M45.1 141.5h.9M30.0 139.6h.9M28.7 135.1h.9M29.9 135.3h.9M27.2 137.5h.9M25.4 135.3h.9M29.7 138.5h.9M37.9 140.8h.9M35.1 137.6h.9M27.0 134.9h.9M23.4 140.1h.9M27.7 138.0h.9M25.4 142.5h.9M28.6 141.6h.9M28.7 141.1h.9M22.7 134.4h.9M36.1 138.1h.9M30.7 141.0h.9M33.5 139.5h.9M21.3 136.1h.9M29.2 140.3h.9M32.3 139.7h.9M24.0 138.2h.9M35.2 136.5h.9M25.3 140.7h.9M39.2 140.3h.9M29.0 135.9h.9M28.2 136.3h.9M29.9 140.5h.9M31.9 142.3h.9M22.4 134.6h.9M37.8 141.9h.9M22.7 138.5h.9M22.1 138.0h.9M31.0 141.3h.9M22.7 134.6h.9M32.7 137.8h.9M38.0 135.9h.9M24.8 130.7h.9M36.3 142.6h.9M31.7 137.8h.9M25.6 143.5h.9M34.8 137.2h.9M31.8 140.2h.9M32.3 136.2h.9M26.2 141.1h.9M33.5 137.9h.9M44.8 140.3h.9M26.4 140.8h.9M34.2 138.5h.9M40.7 142.2h.9M29.2 140.5h.9M33.3 138.0h.9M33.8 137.4h.9M27.5 140.2h.9M21.0 137.0h.9M22.8 140.1h.9M25.3 143.3h.9M38.9 137.3h.9M30.1 137.6h.9M29.0 140.4h.9M38.6 145.1h.9M40.9 135.8h.9M26.0 137.8h.9M27.0 138.8h.9M33.2 137.5h.9M25.3 144.8h.9M33.5 144.8h.9M25.4 142.1h.9M39.9 142.9h.9M24.2 139.7h.9M24.1 135.1h.9M29.0 139.9h.9M27.7 138.1h.9M33.1 136.9h.9M31.8 140.8h.9M33.3 140.4h.9M22.6 137.3h.9M26.3 140.3h.9M25.7 138.4h.9M35.1 143.6h.9M22.7 138.4h.9M24.6 140.1h.9M28.4 138.8h.9M36.5 136.0h.9M36.5 137.1h.9M34.2 137.8h.9M47.5 144.8h.9M49.5 141.0h.9M46.0 141.8h.9M41.9 138.2h.9M32.8 135.6h.9M47.8 131.9h.9M43.6 136.9h.9M40.3 138.0h.9M42.2 133.7h.9M41.7 131.7h.9M49.5 137.0h.9M46.5 134.3h.9M51.2 140.1h.9M43.8 137.7h.9M44.0 134.9h.9M41.4 136.4h.9M43.9 141.6h.9M47.8 137.8h.9M45.2 136.2h.9M39.7 132.2h.9M35.8 133.5h.9M41.7 136.5h.9M44.2 140.5h.9M45.4 136.6h.9M39.8 136.2h.9M45.1 134.3h.9M34.6 136.4h.9M47.3 140.7h.9M45.1 131.3h.9M41.3 139.1h.9M47.5 142.5h.9M37.4 138.1h.9" stroke="#000" stroke-width="0.9" fill="none" opacity="0.8"/>
<rect x="82.4" y="110.4" width="56.0" height="50.19999999999999" fill="#fff" stroke="#222" stroke-width="1.2"/>
<path d="M99.5 110.4 V160.6 H138.4 V110.4" fill="none" stroke="#111" stroke-width="1.1"/>
<line x1="99.5" y1="160.6" x2="138.4" y2="160.6" stroke="#000" stroke-width="1.3"/>
<line x1="82.0" y1="110.9" x2="82.0" y2="161.1" stroke="#111" stroke-width="1.7"/>
<line x1="80.80000000000001" y1="112.4" x2="80.80000000000001" y2="160.6" stroke="#111" stroke-width="1" stroke-dasharray="0.8 1.1" opacity="0.75"/>
<line x1="80.2" y1="123.0" x2="82.4" y2="123.0" stroke="#111" stroke-width="1.3"/>
<line x1="80.2" y1="135.5" x2="82.4" y2="135.5" stroke="#111" stroke-width="1.3"/>
<line x1="80.2" y1="148.1" x2="82.4" y2="148.1" stroke="#111" stroke-width="1.3"/>
<line x1="81.4" y1="161.5" x2="138.4" y2="161.5" stroke="#222" stroke-width="0.9" stroke-dasharray="1.3 1.1" opacity="0.55"/>
<path d="M90.2 138.1h.9M88.2 137.9h.9M93.5 138.0h.9M95.9 135.4h.9M90.3 135.8h.9M87.0 136.8h.9M90.8 138.0h.9M91.9 141.7h.9M93.3 134.0h.9M90.8 136.0h.9M88.0 139.8h.9M89.2 133.3h.9M91.2 136.6h.9M85.5 135.4h.9M87.6 137.2h.9M88.4 137.3h.9M97.0 135.6h.9M86.9 136.7h.9M94.2 135.8h.9M95.5 134.6h.9M86.1 137.1h.9M86.7 136.0h.9M91.7 138.6h.9M90.4 136.7h.9M95.1 138.0h.9M89.1 139.6h.9M86.6 137.5h.9M92.5 137.2h.9M87.8 137.9h.9M87.9 136.0h.9M86.1 139.8h.9M87.9 139.5h.9M91.4 136.7h.9M92.5 137.7h.9M90.5 134.4h.9M90.3 139.0h.9M91.9 139.2h.9M95.7 138.0h.9M97.5 134.2h.9M89.1 132.2h.9M93.1 137.4h.9M96.4 136.5h.9M84.9 134.7h.9M89.3 138.5h.9M88.1 137.6h.9M89.7 137.4h.9M92.2 137.5h.9M90.8 135.3h.9M89.6 138.1h.9M94.0 137.0h.9M90.3 137.9h.9M92.2 137.6h.9M89.0 136.2h.9M94.3 137.8h.9M90.1 144.2h.9M93.4 138.9h.9M90.6 135.2h.9M94.3 137.0h.9M90.2 139.3h.9M93.9 137.7h.9M90.1 141.4h.9M92.2 135.1h.9M92.9 137.5h.9M90.1 138.6h.9M90.9 141.2h.9M90.8 137.7h.9M94.4 136.1h.9M93.9 137.1h.9M94.5 135.5h.9M91.6 134.0h.9M88.3 137.2h.9M91.9 141.1h.9M97.0 134.5h.9M87.1 139.7h.9M91.7 134.5h.9M91.8 134.9h.9M86.7 134.7h.9M89.0 141.7h.9M91.4 137.0h.9M99.5 136.3h.9M89.4 136.7h.9M91.6 136.6h.9M95.5 136.6h.9M92.1 137.6h.9M86.7 135.3h.9M89.8 132.6h.9M90.1 137.4h.9M90.5 137.0h.9M91.3 136.5h.9M92.4 133.9h.9M93.5 135.4h.9M91.8 136.3h.9M88.4 135.6h.9M95.1 135.0h.9M85.4 137.6h.9M91.0 137.3h.9M86.4 135.9h.9M93.4 135.1h.9M92.3 138.7h.9M90.5 134.8h.9M97.2 137.5h.9M90.8 136.5h.9M86.4 136.7h.9M90.8 135.5h.9M90.4 139.5h.9M91.7 137.0h.9M94.0 139.0h.9M93.4 135.6h.9M83.1 138.8h.9M90.2 136.5h.9M91.8 136.3h.9M87.7 140.8h.9M84.0 138.9h.9M93.8 140.7h.9M91.0 138.2h.9M86.5 137.3h.9M89.9 137.0h.9M88.2 139.5h.9M84.0 137.5h.9M88.5 137.3h.9M90.2 141.1h.9M86.0 139.9h.9M95.3 136.9h.9M87.7 134.7h.9M86.8 141.3h.9M87.4 141.0h.9M100.3 134.6h.9M96.9 137.4h.9M99.5 135.3h.9M97.9 136.2h.9M100.9 137.5h.9M99.9 136.0h.9M102.1 136.0h.9M95.7 136.2h.9M97.7 136.5h.9M91.3 139.4h.9M101.5 139.4h.9M97.4 138.3h.9M99.8 137.1h.9M106.1 135.9h.9M101.3 133.9h.9M101.2 136.7h.9M95.0 135.9h.9M90.6 135.1h.9M99.7 132.3h.9M103.3 138.8h.9M96.0 134.3h.9M93.4 134.7h.9M96.0 140.9h.9M94.5 138.4h.9M104.0 135.3h.9M97.9 138.2h.9M96.4 139.2h.9M107.6 136.9h.9M95.7 138.1h.9M100.3 135.7h.9M98.4 137.2h.9M101.0 139.1h.9M97.1 134.7h.9M92.5 140.3h.9M97.3 136.3h.9M108.8 139.0h.9M108.0 136.7h.9M96.2 136.1h.9M101.6 137.8h.9M100.6 141.1h.9M104.4 135.0h.9M100.8 138.1h.9M96.0 141.2h.9M102.7 139.7h.9M96.9 134.9h.9M102.0 136.6h.9M96.7 136.8h.9M99.8 137.3h.9M98.2 137.8h.9M110.6 139.1h.9M97.0 140.7h.9M97.1 134.2h.9M93.5 133.3h.9M103.6 135.0h.9M93.3 136.0h.9M98.2 134.7h.9M96.7 137.0h.9M101.6 135.3h.9M101.2 137.5h.9M101.2 136.0h.9M94.3 138.7h.9M101.3 135.8h.9M95.8 138.2h.9M107.1 137.6h.9M109.1 137.5h.9M100.3 137.9h.9M103.3 134.3h.9M99.6 139.3h.9M92.7 137.4h.9M102.0 140.1h.9M105.3 136.9h.9M107.3 135.0h.9M93.4 139.4h.9M101.7 134.9h.9M103.3 138.6h.9M101.9 136.2h.9M93.8 133.9h.9M98.1 136.7h.9M96.9 136.0h.9M102.7 134.9h.9M96.0 140.6h.9M96.4 135.8h.9M103.3 133.7h.9M105.5 134.7h.9M95.6 134.7h.9M95.1 135.7h.9M102.7 136.9h.9M104.5 138.4h.9M94.0 137.0h.9M96.5 136.2h.9M99.5 137.7h.9M100.7 133.1h.9M98.3 136.2h.9M106.4 136.5h.9M98.8 137.0h.9M102.1 134.9h.9M98.4 136.8h.9M98.9 136.5h.9M96.8 137.1h.9M93.6 139.9h.9M98.9 133.7h.9M97.8 138.7h.9M98.2 136.7h.9M89.7 139.6h.9M99.2 133.4h.9M97.2 139.6h.9M100.5 134.3h.9M96.7 137.4h.9M107.3 137.4h.9M101.9 136.4h.9M99.1 135.2h.9M93.7 134.5h.9M96.6 139.3h.9M98.8 139.2h.9M102.1 137.3h.9M96.9 140.9h.9M103.5 139.2h.9M109.0 139.7h.9M99.9 137.7h.9M101.2 141.1h.9M94.9 133.7h.9M97.0 137.0h.9M96.6 138.7h.9M101.4 136.9h.9M99.3 140.5h.9M107.0 140.2h.9M97.5 139.2h.9M94.4 133.7h.9M105.9 138.6h.9M101.7 139.6h.9M105.7 137.5h.9M100.1 138.1h.9M102.5 137.3h.9M93.6 141.5h.9M96.0 135.9h.9M101.5 136.9h.9M101.2 141.4h.9M104.8 136.2h.9M100.4 136.9h.9M104.1 135.4h.9M95.2 134.0h.9M101.1 137.7h.9M102.0 138.6h.9M94.2 136.4h.9M94.7 139.3h.9M102.6 134.4h.9M101.2 137.2h.9M99.6 138.3h.9M96.6 136.5h.9M96.4 135.8h.9M94.9 139.1h.9M101.4 136.6h.9M92.5 141.1h.9M99.2 137.4h.9M101.7 140.1h.9M97.9 132.8h.9M97.8 137.0h.9M96.8 139.7h.9M97.3 137.6h.9M95.8 138.4h.9M96.3 138.5h.9M99.6 137.3h.9M100.4 134.1h.9M97.3 137.4h.9M97.6 139.2h.9M102.6 135.7h.9M103.8 136.6h.9M101.3 139.3h.9M94.6 135.6h.9M98.9 136.6h.9M100.4 138.1h.9M107.8 137.4h.9M108.3 138.2h.9M103.8 137.6h.9M105.4 136.3h.9M103.6 139.0h.9M97.3 135.9h.9M109.8 136.5h.9M104.5 138.7h.9M103.3 136.6h.9M108.7 136.2h.9M105.0 137.1h.9M111.0 135.6h.9M109.2 136.9h.9M105.7 134.9h.9M114.0 137.9h.9M108.2 136.5h.9M113.5 136.0h.9M103.0 135.8h.9M106.9 137.5h.9M99.1 137.5h.9M108.1 138.8h.9M105.8 139.4h.9M115.1 136.2h.9M106.0 138.6h.9M111.9 137.0h.9M111.7 134.5h.9M110.8 137.7h.9M110.7 137.8h.9M109.8 136.3h.9M112.6 133.7h.9M108.1 136.0h.9M114.9 135.2h.9M107.6 137.0h.9M110.3 137.0h.9M102.8 136.8h.9M111.8 138.3h.9M104.2 135.0h.9M102.0 136.9h.9M106.5 136.5h.9M105.0 137.3h.9M112.4 138.6h.9M105.4 138.3h.9M106.1 139.1h.9M111.2 138.5h.9M116.0 138.7h.9M110.8 139.3h.9M103.0 136.5h.9M105.7 138.4h.9M107.3 135.1h.9M104.1 136.7h.9M105.3 136.3h.9M101.2 137.3h.9M101.9 136.4h.9M104.6 136.6h.9M112.9 136.4h.9M105.5 133.1h.9M103.6 137.4h.9M105.8 138.3h.9M105.9 138.3h.9M108.2 138.8h.9M106.0 138.5h.9M105.2 135.8h.9M111.7 134.8h.9M103.4 139.7h.9M107.8 137.6h.9M108.0 137.0h.9M115.0 137.1h.9M112.8 137.0h.9M104.3 136.6h.9M107.3 141.2h.9M104.7 137.7h.9M100.9 137.9h.9M106.6 137.7h.9M107.5 136.3h.9M107.4 137.1h.9M111.3 136.9h.9M106.6 135.0h.9M110.6 136.8h.9M103.5 139.0h.9M110.8 137.0h.9M107.3 134.9h.9M97.6 137.2h.9M101.1 138.1h.9M105.7 137.4h.9M104.9 137.7h.9M110.2 137.2h.9M110.1 138.3h.9M106.5 134.3h.9M109.6 136.1h.9M102.9 134.1h.9M100.0 139.2h.9M114.2 139.2h.9M115.2 134.0h.9M110.1 134.8h.9M101.2 138.0h.9M110.8 135.6h.9M100.4 134.5h.9M106.2 138.4h.9M115.0 137.7h.9M102.9 135.3h.9M107.2 138.0h.9M98.9 137.4h.9M104.4 138.3h.9M100.3 138.5h.9M112.7 139.3h.9M113.2 137.2h.9M107.4 135.2h.9M106.8 135.7h.9M109.4 138.2h.9M113.4 138.7h.9M108.6 135.7h.9M120.8 136.1h.9M116.7 132.9h.9M119.9 135.5h.9M111.3 137.9h.9M114.3 134.0h.9M119.3 135.1h.9M112.5 135.6h.9M112.1 135.9h.9M112.5 135.8h.9M123.9 136.9h.9M116.3 135.6h.9M121.1 137.2h.9M114.3 135.7h.9M117.1 134.1h.9M111.1 136.0h.9M115.4 136.7h.9M108.0 137.3h.9M112.2 135.7h.9M114.4 136.0h.9M112.1 135.9h.9M116.6 136.5h.9M114.8 135.6h.9M118.6 136.6h.9M111.0 138.0h.9M108.5 135.5h.9M117.1 135.9h.9M112.7 136.0h.9M114.0 137.1h.9" stroke="#000" stroke-width="0.9" fill="none" opacity="0.8"/>
<rect x="19.6" y="245.3" width="56.800000000000004" height="50.099999999999966" fill="#fff" stroke="#222" stroke-width="1.2"/>
<path d="M37.5 245.3 V295.4 H76.4 V245.3" fill="none" stroke="#111" stroke-width="1.1"/>
<line x1="37.5" y1="295.4" x2="76.4" y2="295.4" stroke="#000" stroke-width="1.3"/>
<line x1="19.200000000000003" y1="245.8" x2="19.200000000000003" y2="295.9" stroke="#111" stroke-width="1.7"/>
<line x1="18.0" y1="247.3" x2="18.0" y2="295.4" stroke="#111" stroke-width="1" stroke-dasharray="0.8 1.1" opacity="0.75"/>
<line x1="17.400000000000002" y1="257.8" x2="19.6" y2="257.8" stroke="#111" stroke-width="1.3"/>
<line x1="17.400000000000002" y1="270.4" x2="19.6" y2="270.4" stroke="#111" stroke-width="1.3"/>
<line x1="17.400000000000002" y1="282.9" x2="19.6" y2="282.9" stroke="#111" stroke-width="1.3"/>
<line x1="18.6" y1="296.29999999999995" x2="76.4" y2="296.29999999999995" stroke="#222" stroke-width="0.9" stroke-dasharray="1.3 1.1" opacity="0.55"/>
<path d="M21.8 269.8h.9M33.9 267.4h.9M28.6 267.2h.9M36.7 274.5h.9M38.3 272.7h.9M32.1 272.9h.9M24.7 273.6h.9M21.3 272.0h.9M34.0 274.0h.9M26.8 279.4h.9M29.9 271.9h.9M30.5 272.1h.9M27.0 272.4h.9M42.7 274.4h.9M30.6 275.4h.9M42.6 273.7h.9M25.4 280.1h.9M33.8 280.1h.9M23.3 266.4h.9M33.8 272.3h.9M27.0 274.6h.9M31.0 274.4h.9M26.7 276.9h.9M39.3 274.2h.9M26.6 275.3h.9M32.6 270.8h.9M26.5 276.2h.9M28.9 272.5h.9M30.9 273.5h.9M29.5 268.2h.9M40.9 274.8h.9M23.8 275.8h.9M31.5 273.7h.9M36.3 280.2h.9M33.1 278.1h.9M43.5 271.6h.9M26.1 275.4h.9M37.9 276.9h.9M33.3 268.5h.9M44.8 276.0h.9M34.5 275.2h.9M21.6 278.3h.9M24.1 272.5h.9M27.8 275.0h.9M32.8 274.5h.9M21.3 264.3h.9M30.6 274.3h.9M37.5 273.7h.9M25.5 274.4h.9M23.0 273.9h.9M43.1 276.5h.9M36.9 274.6h.9M31.3 272.4h.9M27.7 266.7h.9M21.7 269.4h.9M34.9 275.7h.9M36.9 278.3h.9M27.5 276.3h.9M42.2 274.3h.9M36.6 273.5h.9M24.2 273.5h.9M26.5 274.2h.9M38.3 273.1h.9M23.6 273.1h.9M33.9 275.0h.9M32.1 268.2h.9M22.2 276.7h.9M31.1 269.4h.9M23.9 269.1h.9M22.9 276.3h.9M28.1 276.5h.9M30.7 269.4h.9M25.2 279.7h.9M24.4 270.2h.9M37.7 274.3h.9M29.5 277.6h.9M22.5 269.1h.9M24.1 276.4h.9M28.6 268.3h.9M22.1 277.3h.9M36.3 270.9h.9M45.6 273.5h.9M21.6 272.6h.9M35.7 278.5h.9M36.3 272.7h.9M25.8 269.1h.9M29.0 271.8h.9M31.1 270.0h.9M26.1 270.8h.9M21.5 269.6h.9M22.7 269.7h.9M33.3 274.0h.9M20.7 274.4h.9M31.4 277.8h.9M28.2 272.8h.9M24.9 273.6h.9M32.8 274.2h.9M27.8 275.0h.9M30.1 274.2h.9M23.3 273.7h.9M22.9 270.7h.9M30.6 279.5h.9M36.1 273.9h.9M28.3 276.2h.9M38.7 277.6h.9M28.3 274.0h.9M27.3 272.5h.9M23.8 272.4h.9M32.3 271.1h.9M33.1 270.1h.9M27.0 274.5h.9M22.6 271.0h.9M45.9 272.6h.9M24.8 271.6h.9M29.7 273.4h.9M36.0 276.2h.9M26.8 272.3h.9M24.6 275.3h.9M30.3 275.8h.9M35.8 273.4h.9M43.5 272.9h.9M25.3 272.0h.9M37.1 273.6h.9M24.6 274.4h.9M37.0 273.7h.9M27.8 276.5h.9M36.0 276.6h.9M24.4 274.0h.9M31.9 268.6h.9M37.5 274.3h.9M27.2 279.8h.9M30.5 271.5h.9M29.1 275.1h.9M34.9 273.7h.9M23.8 271.2h.9M24.1 270.2h.9M29.4 272.1h.9M29.9 271.2h.9M23.7 272.6h.9M27.2 276.6h.9M23.5 273.7h.9M29.2 269.8h.9M34.3 274.3h.9M35.7 271.7h.9M40.7 274.7h.9M21.9 274.6h.9M27.1 269.6h.9M24.6 275.0h.9M32.1 272.2h.9M26.0 278.3h.9M40.8 276.4h.9M27.1 270.6h.9M26.9 278.0h.9M32.6 272.9h.9M21.4 273.4h.9M23.7 273.2h.9M34.4 276.8h.9M30.4 272.6h.9M31.0 278.7h.9M32.0 269.7h.9M39.8 274.9h.9M52.5 273.7h.9M28.9 272.6h.9M32.0 272.0h.9M28.7 272.0h.9M25.7 279.2h.9M34.8 276.9h.9M26.2 274.1h.9M28.1 272.8h.9M34.4 275.5h.9M31.5 274.0h.9M32.0 272.6h.9M24.4 274.2h.9M23.4 271.2h.9M35.3 272.9h.9M38.9 275.6h.9M34.8 277.0h.9M21.0 271.6h.9M28.8 277.0h.9M29.2 278.1h.9M26.0 273.1h.9M30.1 276.2h.9M29.2 271.7h.9M27.3 269.4h.9M37.8 276.1h.9M32.3 274.5h.9M25.5 272.1h.9M34.8 271.6h.9M24.3 277.6h.9M39.8 275.0h.9M33.0 274.3h.9M38.9 272.9h.9M30.0 274.9h.9M39.0 273.4h.9M31.0 272.2h.9M25.2 271.4h.9M30.1 276.0h.9M25.0 271.5h.9M26.8 274.3h.9M34.1 270.3h.9M31.8 270.9h.9M34.2 271.1h.9M22.4 271.1h.9M29.1 270.7h.9M30.9 274.0h.9M30.0 274.3h.9M35.2 271.8h.9M29.5 273.4h.9M24.5 271.2h.9M26.6 273.6h.9M31.7 275.0h.9M25.0 275.1h.9M32.2 272.6h.9M29.4 275.7h.9M32.3 275.6h.9M30.2 276.7h.9M44.0 275.7h.9M25.8 269.4h.9M36.6 276.7h.9M27.0 277.3h.9M29.0 271.8h.9M29.9 274.1h.9M29.8 274.6h.9M25.8 275.1h.9M24.3 273.6h.9M28.4 269.0h.9M32.0 275.4h.9M22.2 267.2h.9M25.3 270.9h.9M30.2 273.5h.9M40.0 276.0h.9M27.8 273.8h.9M23.5 272.8h.9M31.6 274.2h.9M35.6 272.0h.9M31.5 273.3h.9M29.6 274.4h.9M27.7 274.0h.9M29.3 276.3h.9M28.8 274.3h.9M46.4 276.3h.9M32.8 276.7h.9M23.0 275.0h.9M34.4 275.0h.9M35.8 276.1h.9M37.2 272.2h.9M32.3 272.2h.9M37.5 274.4h.9M21.1 273.3h.9M23.0 275.8h.9M27.3 267.3h.9M27.0 276.2h.9M31.6 271.9h.9M33.7 275.4h.9M39.0 276.6h.9M31.9 271.5h.9M31.3 274.5h.9M29.6 274.7h.9M21.8 274.6h.9M29.6 274.5h.9M28.9 272.6h.9M31.2 275.8h.9M27.4 274.3h.9M24.5 274.3h.9M29.6 270.0h.9M37.0 271.5h.9M30.0 269.9h.9M20.4 267.2h.9M28.1 269.1h.9M28.2 278.4h.9M27.0 274.3h.9M33.1 274.4h.9M28.7 277.6h.9M29.0 274.4h.9M30.2 270.0h.9M31.6 273.8h.9M33.7 275.7h.9M39.6 268.9h.9M25.9 272.0h.9M23.9 274.3h.9M29.0 273.9h.9M29.1 272.2h.9M25.6 272.9h.9M27.7 270.5h.9M40.2 272.3h.9M33.7 275.4h.9M35.7 272.3h.9M23.1 274.3h.9M31.2 267.2h.9M27.0 272.6h.9M32.2 271.0h.9M46.5 277.1h.9M37.8 274.8h.9M26.0 274.5h.9M28.8 275.3h.9M23.9 272.1h.9M29.5 271.4h.9M26.6 275.0h.9M41.9 273.7h.9M34.8 270.7h.9M26.6 274.2h.9M33.2 270.9h.9M33.4 274.1h.9M37.9 276.6h.9M33.0 272.6h.9M31.2 271.3h.9M24.2 268.1h.9M21.2 269.5h.9M28.8 273.7h.9M20.9 272.7h.9M32.1 276.2h.9M28.9 274.1h.9M27.1 275.9h.9M35.4 268.1h.9M26.1 269.4h.9M23.8 276.0h.9M26.1 270.2h.9M28.9 274.6h.9M34.7 275.2h.9M28.3 271.1h.9M34.2 272.8h.9M29.0 272.4h.9M29.7 269.4h.9M42.9 272.8h.9M24.8 268.3h.9M28.9 269.7h.9M31.5 276.9h.9M33.3 272.5h.9M37.5 273.5h.9M29.1 273.6h.9M26.4 274.4h.9M21.5 268.1h.9M37.1 271.9h.9M27.1 274.2h.9M26.4 270.0h.9M28.1 270.8h.9M32.9 272.5h.9M27.7 275.4h.9M34.1 277.2h.9M30.0 271.6h.9M37.3 275.4h.9M36.0 268.9h.9M28.6 270.6h.9M22.4 274.6h.9M34.1 272.5h.9M27.8 277.1h.9M33.6 273.4h.9M32.7 274.0h.9M21.3 271.5h.9M31.2 275.3h.9M21.7 270.8h.9M25.6 269.1h.9M36.4 275.1h.9M37.8 268.0h.9M24.2 278.1h.9M20.4 267.9h.9M30.8 277.8h.9M33.5 271.1h.9M32.9 274.8h.9M31.1 274.6h.9M34.7 277.0h.9M38.2 276.9h.9M28.5 268.4h.9M32.9 269.6h.9M44.0 271.2h.9M31.9 274.4h.9M33.6 274.5h.9M24.4 275.3h.9M25.0 269.1h.9M35.2 275.3h.9M23.4 272.4h.9M36.0 276.4h.9M22.6 276.0h.9M31.9 273.3h.9M30.1 269.1h.9M28.6 274.8h.9M23.5 273.5h.9M28.3 267.2h.9M25.5 274.8h.9M31.6 270.1h.9M27.8 275.8h.9M34.0 271.1h.9M36.0 274.8h.9M30.2 277.6h.9M34.1 274.8h.9M35.6 275.7h.9M37.6 273.7h.9M34.6 275.2h.9M29.7 273.3h.9M30.1 270.9h.9M34.4 274.0h.9M23.3 273.8h.9M27.4 273.3h.9M32.9 281.1h.9M22.6 274.2h.9M34.0 274.9h.9M39.0 272.9h.9M27.4 273.3h.9M20.7 275.9h.9M21.5 274.5h.9M37.2 271.7h.9M28.3 272.9h.9M40.5 274.9h.9M36.1 268.5h.9M30.0 267.7h.9M36.3 277.8h.9M34.0 273.7h.9M25.0 274.2h.9M24.3 273.6h.9M27.8 272.2h.9M33.0 276.4h.9M35.2 275.1h.9M40.3 270.7h.9M29.9 274.0h.9M37.3 267.8h.9M26.6 272.4h.9M30.7 279.8h.9M31.0 273.3h.9M32.2 276.4h.9M28.4 278.0h.9M21.7 276.4h.9M34.0 276.5h.9M39.5 273.5h.9M32.2 274.4h.9M25.6 271.1h.9M24.5 275.5h.9M30.0 277.1h.9M28.8 276.9h.9M29.1 272.0h.9M40.6 274.5h.9M22.8 274.7h.9M20.6 269.8h.9M36.7 275.1h.9M35.7 274.6h.9M28.7 273.9h.9M27.4 276.3h.9M21.2 267.8h.9M24.0 275.6h.9M26.0 266.9h.9M47.9 272.1h.9M28.2 275.0h.9M31.9 273.2h.9M23.2 272.6h.9M34.4 272.7h.9M33.4 275.7h.9M21.1 273.1h.9M31.4 276.6h.9M32.1 274.1h.9M27.5 274.7h.9M34.5 273.4h.9M27.7 278.2h.9M29.2 271.3h.9M33.8 270.4h.9M22.5 275.6h.9M29.6 275.7h.9M34.5 271.7h.9M32.7 272.7h.9M30.9 274.3h.9M29.0 269.9h.9M31.4 273.7h.9M32.9 270.8h.9M30.8 273.0h.9M26.7 272.6h.9M27.9 269.7h.9M26.0 272.0h.9M32.5 273.3h.9M38.6 275.7h.9M31.5 274.2h.9M20.4 273.9h.9M37.6 271.2h.9M38.0 275.7h.9M31.3 272.5h.9M29.6 271.4h.9M29.4 273.6h.9M29.9 270.2h.9M35.4 272.1h.9M32.0 275.3h.9M28.2 280.1h.9M30.3 274.7h.9M27.9 274.3h.9M21.4 274.7h.9M27.1 272.0h.9M34.4 276.3h.9M26.8 270.5h.9M32.6 275.4h.9M21.4 273.1h.9M36.2 271.9h.9M26.0 270.8h.9M32.1 268.5h.9M28.7 274.7h.9M29.1 276.1h.9M33.4 272.4h.9M23.1 270.2h.9M32.6 273.3h.9M30.2 271.1h.9M36.8 276.3h.9M34.3 270.8h.9M46.0 276.9h.9M22.6 275.7h.9M28.7 271.3h.9M24.6 274.5h.9M31.5 274.2h.9M28.1 270.6h.9M31.1 272.9h.9M28.2 275.1h.9M40.3 272.5h.9M35.6 271.9h.9M34.8 275.6h.9M29.7 274.2h.9M24.6 272.3h.9M35.6 276.0h.9M43.8 271.7h.9M26.5 273.6h.9M29.9 272.2h.9M26.9 273.1h.9M37.6 273.7h.9M24.7 274.0h.9M25.5 274.1h.9M22.7 275.7h.9M34.5 272.6h.9M32.5 270.5h.9M30.9 274.3h.9M36.3 272.8h.9M22.7 271.6h.9M27.2 277.8h.9M29.2 276.6h.9M30.0 269.8h.9M32.4 275.1h.9M25.9 269.1h.9M47.5 280.4h.9M32.1 274.9h.9M35.5 275.5h.9M20.1 269.2h.9M34.7 277.5h.9M36.3 276.2h.9M29.4 276.1h.9M39.3 275.6h.9M37.4 277.3h.9M25.0 276.4h.9M24.7 270.7h.9M39.7 269.7h.9M28.3 275.9h.9M32.0 272.6h.9M23.6 274.5h.9M32.9 273.5h.9M23.4 269.3h.9M29.5 273.4h.9M34.8 273.0h.9M35.3 270.6h.9M26.8 271.1h.9M28.6 270.2h.9M27.4 269.7h.9M30.6 272.0h.9M29.2 273.5h.9M32.3 269.1h.9M30.5 272.9h.9M22.3 272.3h.9M32.7 275.0h.9M42.1 273.4h.9M30.4 278.7h.9M25.8 271.0h.9M26.6 271.7h.9M29.4 273.9h.9M24.8 270.2h.9M29.2 270.2h.9M24.4 274.1h.9M28.9 270.8h.9M20.5 270.3h.9M20.2 274.3h.9M34.2 274.6h.9M31.5 272.3h.9M30.5 273.7h.9M29.8 272.2h.9M22.8 273.8h.9M31.9 270.7h.9M28.1 273.3h.9M32.6 269.2h.9M20.7 269.3h.9M21.7 270.1h.9M34.8 270.8h.9M42.9 275.1h.9M33.8 273.7h.9M34.9 274.9h.9M34.5 275.4h.9M33.4 274.8h.9M36.4 274.0h.9M26.3 277.5h.9M26.5 274.4h.9M42.7 272.7h.9M27.8 271.6h.9M23.7 274.9h.9M28.2 273.8h.9M25.0 268.1h.9M25.0 268.9h.9M39.5 269.7h.9M31.3 270.8h.9M24.4 269.7h.9M37.1 271.1h.9M25.5 273.9h.9M27.2 275.2h.9M24.9 268.9h.9M32.4 276.9h.9M32.8 271.5h.9M36.8 276.1h.9M27.1 274.5h.9M29.3 273.8h.9M33.6 276.1h.9M30.1 273.7h.9M32.4 271.6h.9M31.9 273.1h.9M29.9 273.8h.9M37.7 275.4h.9M29.8 270.4h.9M31.8 270.8h.9M37.3 272.1h.9M25.6 272.9h.9M23.2 274.4h.9M31.6 271.8h.9M26.2 278.2h.9M36.8 275.5h.9M31.3 277.6h.9M27.1 272.7h.9M28.7 270.6h.9M24.0 278.1h.9M30.5 271.2h.9M28.0 272.1h.9M26.8 273.2h.9M20.3 268.1h.9M28.3 272.8h.9M22.2 272.8h.9M26.0 273.8h.9M28.2 276.4h.9M38.3 275.9h.9M29.7 275.8h.9M34.1 275.1h.9M34.4 272.9h.9M34.4 275.3h.9M32.1 273.3h.9M27.1 274.9h.9M26.5 270.5h.9M40.1 277.4h.9M24.8 276.9h.9M33.9 274.5h.9M28.4 275.5h.9M32.9 270.8h.9M25.1 275.9h.9M34.3 270.8h.9M20.4 274.1h.9M24.5 271.3h.9M26.4 274.0h.9M27.4 275.8h.9M22.6 270.8h.9M32.7 276.4h.9M29.3 272.7h.9M38.0 277.0h.9M31.5 273.0h.9M37.5 275.9h.9M27.5 277.3h.9M36.5 274.6h.9M32.6 275.8h.9M26.8 270.2h.9M37.1 269.8h.9M20.3 269.2h.9M32.7 276.5h.9M25.6 276.8h.9M39.9 277.9h.9M21.7 276.5h.9M43.9 272.1h.9M32.9 273.7h.9M29.3 269.0h.9M24.4 273.8h.9M32.6 276.2h.9M35.5 272.7h.9M29.2 277.3h.9M21.2 274.4h.9M24.4 273.8h.9M41.2 275.4h.9M26.9 271.6h.9M20.9 273.0h.9M30.5 271.2h.9M24.8 276.4h.9M37.4 279.5h.9M36.8 274.9h.9M28.3 276.8h.9M33.9 274.3h.9M40.9 273.9h.9M30.8 276.6h.9M32.7 274.0h.9M36.2 281.4h.9M27.6 275.3h.9M32.4 274.2h.9M40.2 274.1h.9M40.3 271.7h.9M30.5 271.5h.9M32.0 275.6h.9M33.2 274.4h.9M28.1 270.2h.9M35.0 274.0h.9M36.9 269.6h.9M28.1 269.0h.9M36.6 272.1h.9M23.2 275.5h.9M29.1 274.2h.9M29.1 276.5h.9M31.4 274.4h.9M29.6 276.2h.9M36.7 273.1h.9M35.1 270.0h.9M24.7 271.9h.9M25.1 274.7h.9M21.0 268.9h.9M30.9 271.3h.9M30.0 273.8h.9M25.5 272.2h.9M35.0 273.9h.9M30.1 275.4h.9M25.1 270.1h.9M27.4 277.8h.9M33.5 279.8h.9M35.9 276.4h.9M26.5 269.0h.9M22.6 270.0h.9M33.2 274.6h.9M21.5 273.7h.9M38.3 276.6h.9M25.3 275.8h.9M26.8 276.7h.9M22.0 270.5h.9M27.5 275.4h.9M20.8 273.6h.9M27.4 272.2h.9M21.6 274.2h.9M30.5 274.8h.9M30.7 273.3h.9M24.1 273.2h.9M34.6 274.3h.9M33.0 276.1h.9M31.7 273.0h.9M23.5 276.5h.9M28.6 273.0h.9M30.2 275.8h.9M35.0 272.0h.9M29.1 276.6h.9M25.8 273.4h.9M24.3 269.3h.9M21.5 273.5h.9M31.6 266.8h.9M28.0 272.9h.9M35.6 271.9h.9M39.3 276.0h.9M38.3 275.1h.9M37.4 269.1h.9M50.0 269.9h.9M41.0 267.5h.9M43.8 276.1h.9M41.7 271.3h.9M43.1 269.8h.9M36.9 272.2h.9M41.5 267.0h.9M31.4 273.4h.9M36.9 273.4h.9M47.4 271.9h.9M40.2 264.7h.9M50.5 274.6h.9M39.4 269.0h.9M45.4 266.2h.9M46.5 274.8h.9M37.2 268.9h.9M51.7 270.6h.9M43.9 271.0h.9M33.1 275.0h.9M50.9 270.3h.9M38.7 276.4h.9M35.7 271.1h.9M36.5 267.4h.9M40.0 264.2h.9M37.2 272.1h.9M39.5 268.8h.9M55.1 274.3h.9M40.5 275.2h.9M46.1 272.5h.9M46.6 271.0h.9M40.3 277.2h.9" stroke="#000" stroke-width="0.9" fill="none" opacity="0.8"/>
<rect x="83.2" y="245.3" width="55.89999999999999" height="50.099999999999966" fill="#fff" stroke="#222" stroke-width="1.2"/>
<path d="M100.8 245.3 V295.4 H139.1 V245.3" fill="none" stroke="#111" stroke-width="1.1"/>
<line x1="100.8" y1="295.4" x2="139.1" y2="295.4" stroke="#000" stroke-width="1.3"/>
<line x1="82.8" y1="245.8" x2="82.8" y2="295.9" stroke="#111" stroke-width="1.7"/>
<line x1="81.60000000000001" y1="247.3" x2="81.60000000000001" y2="295.4" stroke="#111" stroke-width="1" stroke-dasharray="0.8 1.1" opacity="0.75"/>
<line x1="81.0" y1="257.8" x2="83.2" y2="257.8" stroke="#111" stroke-width="1.3"/>
<line x1="81.0" y1="270.4" x2="83.2" y2="270.4" stroke="#111" stroke-width="1.3"/>
<line x1="81.0" y1="282.9" x2="83.2" y2="282.9" stroke="#111" stroke-width="1.3"/>
<line x1="82.2" y1="296.29999999999995" x2="139.1" y2="296.29999999999995" stroke="#222" stroke-width="0.9" stroke-dasharray="1.3 1.1" opacity="0.55"/>
<path d="M99.0 269.1h.9M93.9 272.1h.9M102.9 272.0h.9M90.4 272.5h.9M92.2 274.0h.9M96.0 274.8h.9M96.5 270.4h.9M91.1 271.4h.9M98.8 273.9h.9M98.1 270.8h.9M99.0 269.7h.9M99.0 270.8h.9M103.0 273.6h.9M98.5 270.4h.9M99.2 272.6h.9M94.8 271.0h.9M102.1 271.4h.9M98.8 274.2h.9M91.1 274.9h.9M101.1 271.0h.9M93.2 270.0h.9M100.7 267.9h.9M100.7 272.3h.9M94.3 271.2h.9M95.5 271.6h.9M100.6 270.7h.9M101.4 273.6h.9M96.0 273.0h.9M94.8 272.1h.9M99.0 275.1h.9M96.8 271.8h.9M97.1 271.7h.9M92.7 275.0h.9M94.5 271.1h.9M94.1 273.1h.9M108.9 276.9h.9M101.0 272.6h.9M96.9 270.4h.9M100.0 271.9h.9M105.4 271.6h.9M93.0 269.1h.9M89.9 273.0h.9M98.4 270.2h.9M90.8 272.5h.9M95.6 272.4h.9M96.9 270.7h.9M90.0 272.2h.9M97.4 272.3h.9M100.8 273.5h.9M95.0 272.9h.9M88.3 273.1h.9M96.9 273.6h.9M101.0 270.5h.9M96.5 273.8h.9M94.8 272.1h.9M94.5 273.0h.9M98.2 270.7h.9M91.3 268.4h.9M100.4 271.3h.9M94.2 271.2h.9M93.3 273.1h.9M99.5 268.4h.9M96.9 272.2h.9M95.7 272.2h.9M103.8 272.5h.9M101.9 273.7h.9M90.9 274.9h.9M97.9 271.5h.9M100.4 275.6h.9M93.8 270.9h.9M98.5 269.1h.9M92.5 272.1h.9M100.1 272.9h.9M100.4 273.8h.9M95.2 271.4h.9M95.7 271.5h.9M101.5 273.4h.9M88.7 272.8h.9M92.7 270.2h.9M102.3 274.2h.9M101.8 273.1h.9M104.4 270.2h.9M100.4 270.9h.9M94.6 269.3h.9M103.2 274.9h.9M100.6 271.1h.9M97.8 270.3h.9M96.0 274.5h.9M103.6 273.1h.9M100.3 271.8h.9M98.6 271.8h.9M99.0 271.0h.9M101.2 271.6h.9M97.9 271.8h.9M103.3 273.5h.9M93.8 270.5h.9M99.4 272.2h.9M96.1 272.4h.9M103.8 271.9h.9M102.9 271.2h.9M96.1 272.5h.9M96.8 271.2h.9M92.7 271.5h.9M95.4 272.0h.9M101.3 272.9h.9M101.8 272.4h.9M98.9 273.1h.9M100.0 273.7h.9M94.8 272.7h.9M97.9 274.0h.9M100.5 271.1h.9M98.8 273.2h.9M97.3 274.1h.9M98.2 270.0h.9M98.3 273.3h.9M93.8 273.2h.9M85.9 275.3h.9M91.4 271.3h.9M95.8 269.7h.9M98.3 270.5h.9M101.0 268.5h.9M110.2 273.5h.9M105.8 272.1h.9M114.4 272.4h.9M112.3 273.3h.9M110.5 272.6h.9M112.5 272.2h.9M107.7 270.8h.9M97.7 270.5h.9M105.6 273.3h.9M105.5 269.0h.9M110.2 273.6h.9M108.6 272.3h.9M108.4 271.8h.9M113.6 270.7h.9M103.7 269.8h.9M104.8 270.9h.9M104.2 272.1h.9M112.0 269.9h.9M107.7 270.9h.9M104.1 271.2h.9M108.9 269.6h.9M114.1 271.7h.9M103.9 269.6h.9M112.0 272.8h.9M111.2 272.1h.9M115.1 274.1h.9M117.0 272.4h.9M111.6 271.3h.9M107.7 271.4h.9M107.4 272.0h.9M107.3 271.8h.9M107.9 271.3h.9M104.0 271.2h.9M110.2 272.9h.9M112.1 275.3h.9M102.5 273.1h.9M101.2 271.0h.9M103.5 271.9h.9M113.1 274.0h.9M108.7 273.2h.9M109.1 270.1h.9M114.8 271.0h.9M104.7 271.7h.9M102.7 270.9h.9M110.6 270.5h.9M104.2 269.4h.9M98.5 272.3h.9M109.1 271.3h.9M114.9 270.4h.9M109.5 270.8h.9M107.0 272.5h.9M100.9 273.8h.9M106.7 271.9h.9M106.4 272.3h.9M101.5 270.1h.9M108.7 271.5h.9M105.3 272.3h.9M114.2 270.4h.9M95.9 271.4h.9M99.3 271.5h.9M102.7 271.9h.9M115.6 271.7h.9M99.4 270.3h.9M102.2 269.8h.9M109.2 272.1h.9M111.7 273.0h.9M106.5 271.0h.9M104.8 271.8h.9M104.0 269.6h.9M117.8 273.8h.9M105.8 271.2h.9M105.4 272.5h.9M105.6 268.7h.9M108.3 272.6h.9M100.9 269.8h.9M106.7 270.3h.9M111.8 273.0h.9M99.2 272.5h.9M100.4 270.8h.9M113.2 271.4h.9M110.1 271.2h.9M116.3 271.8h.9M121.1 272.6h.9M105.5 271.9h.9M105.9 274.0h.9M102.3 273.1h.9M113.9 273.4h.9M101.1 273.7h.9M111.0 273.5h.9M102.5 272.1h.9M112.5 272.0h.9M108.1 271.2h.9M106.3 271.9h.9M118.9 271.7h.9M104.8 270.4h.9M109.1 272.1h.9M104.8 269.4h.9M115.9 271.6h.9M103.8 272.2h.9M103.0 271.5h.9M98.0 271.0h.9M94.9 272.9h.9M106.7 271.4h.9M106.9 269.7h.9M106.7 271.7h.9M110.8 270.7h.9M104.3 271.6h.9M107.7 271.9h.9M108.0 273.0h.9M107.9 272.2h.9M106.0 269.6h.9M109.3 271.1h.9M106.2 269.9h.9M114.7 273.3h.9M105.2 272.5h.9M111.2 274.7h.9M107.8 273.2h.9M102.9 271.4h.9M105.9 271.3h.9M101.6 272.6h.9M102.5 270.5h.9M106.2 273.8h.9M112.1 271.5h.9M101.7 269.7h.9M106.9 272.9h.9M110.7 271.6h.9M103.1 272.4h.9M112.6 271.7h.9M109.1 271.3h.9M105.9 273.8h.9M104.2 273.7h.9M105.2 271.8h.9M110.7 272.8h.9M104.3 271.6h.9M107.0 271.9h.9M106.6 273.0h.9M102.4 273.0h.9M111.3 270.0h.9M106.8 270.7h.9M99.8 271.9h.9M109.6 271.2h.9M108.4 271.8h.9M97.9 271.5h.9M111.5 273.8h.9M101.3 269.6h.9M108.7 271.4h.9M107.7 271.1h.9M110.3 272.8h.9M105.3 271.8h.9M115.7 272.9h.9M117.1 272.5h.9M118.4 272.1h.9M114.3 273.3h.9M114.4 270.2h.9M112.9 272.1h.9M114.3 271.4h.9M116.8 272.6h.9M115.1 271.3h.9M116.6 273.3h.9M111.3 271.2h.9M112.1 271.0h.9M118.7 274.9h.9M115.7 270.6h.9M112.3 273.1h.9M119.7 273.4h.9M118.7 271.2h.9M113.3 272.0h.9M118.9 271.3h.9M112.5 273.7h.9M110.7 274.2h.9M112.0 273.0h.9M114.4 273.8h.9M114.4 272.1h.9M117.6 271.5h.9M111.3 271.0h.9M112.9 272.2h.9M102.9 273.6h.9M123.3 272.2h.9M112.9 271.0h.9M112.8 270.5h.9M120.6 268.6h.9M112.8 271.9h.9M111.0 274.3h.9M114.7 272.1h.9M114.5 271.6h.9M113.1 273.7h.9M112.7 270.9h.9M118.3 270.3h.9M122.3 271.5h.9M115.5 274.4h.9M110.6 274.6h.9M113.3 271.0h.9M119.1 274.4h.9M115.6 272.2h.9M116.1 271.8h.9M116.8 272.1h.9M113.2 270.6h.9M107.9 272.3h.9M113.7 272.2h.9M117.7 272.0h.9M118.4 272.3h.9M119.6 271.8h.9M113.9 273.1h.9M112.0 273.7h.9M114.2 271.1h.9M118.4 274.4h.9M112.2 271.4h.9M118.9 275.7h.9M108.3 271.4h.9M113.7 270.2h.9M123.7 272.5h.9M116.9 271.6h.9M120.6 273.0h.9M114.9 271.2h.9M117.6 272.0h.9M112.4 271.3h.9M113.5 273.8h.9M110.4 272.9h.9M116.1 271.8h.9M114.0 273.6h.9M114.6 273.8h.9M117.6 272.1h.9M113.6 271.9h.9M116.9 273.4h.9M111.8 270.9h.9M112.7 271.0h.9M109.5 273.1h.9M120.9 269.7h.9M120.9 271.3h.9M117.7 274.1h.9M115.4 273.2h.9M115.3 272.2h.9M113.9 272.3h.9M116.4 273.5h.9M116.2 270.0h.9M113.8 274.1h.9M113.3 272.7h.9M113.6 272.6h.9M121.2 275.0h.9M111.8 270.8h.9M112.8 270.9h.9M115.7 271.9h.9M120.0 272.7h.9M115.5 272.0h.9M116.7 273.2h.9M122.5 271.5h.9M119.4 272.3h.9M114.9 272.6h.9M113.4 276.1h.9M118.4 271.4h.9M116.4 271.3h.9M115.0 271.6h.9M113.0 270.5h.9M120.6 271.9h.9M118.2 271.5h.9M114.3 271.3h.9M119.2 272.2h.9M115.0 272.9h.9M100.2 270.7h.9M90.2 276.2h.9M95.8 273.2h.9M89.5 269.9h.9M90.2 272.1h.9M95.0 275.5h.9M97.1 276.1h.9M93.1 278.2h.9M96.4 275.1h.9M96.6 271.4h.9M101.9 277.0h.9M99.7 274.6h.9M90.0 275.7h.9M95.8 279.7h.9M91.1 272.9h.9M91.8 272.1h.9M88.7 272.8h.9M95.2 279.1h.9M104.7 277.2h.9M89.7 275.4h.9M99.7 275.9h.9M91.6 277.0h.9M94.1 272.9h.9M104.5 276.3h.9M97.1 277.6h.9M93.9 269.7h.9M102.1 274.1h.9M95.7 273.4h.9M105.4 274.2h.9M92.3 270.3h.9M95.8 270.6h.9M95.9 275.4h.9M102.3 274.3h.9M87.1 267.4h.9M95.1 275.4h.9M86.4 278.1h.9M95.8 279.1h.9M89.4 270.8h.9M101.8 277.0h.9M88.3 276.4h.9" stroke="#000" stroke-width="0.9" fill="none" opacity="0.8"/>
<line x1="14" y1="23.4" x2="14" y2="77.2" stroke="#444" stroke-width="1"/>
<path d="M14 20.4 l-1.8 3.6 h3.6 z" fill="#111"/>
<line x1="18.7" y1="77.2" x2="140.2" y2="77.2" stroke="#444" stroke-width="1"/>
<path d="M143.2 77.2 l-3.7 -1.8 v3.6 z" fill="#111"/>
<line x1="13" y1="113" x2="13" y2="166.1" stroke="#444" stroke-width="1"/>
<path d="M13 110 l-1.8 3.6 h3.6 z" fill="#111"/>
<line x1="18" y1="166.1" x2="139.6" y2="166.1" stroke="#444" stroke-width="1"/>
<path d="M142.6 166.1 l-3.7 -1.8 v3.6 z" fill="#111"/>
<line x1="13" y1="247.6" x2="13" y2="300.1" stroke="#444" stroke-width="1"/>
<path d="M13 244.6 l-1.8 3.6 h3.6 z" fill="#111"/>
<line x1="18.5" y1="300.1" x2="140.2" y2="300.1" stroke="#444" stroke-width="1"/>
<path d="M143.2 300.1 l-3.7 -1.8 v3.6 z" fill="#111"/>
<text transform="translate(12.50 76.66) rotate(-90) scale(1 0.993)" font-size="9.24" font-weight="bold">CD38</text>
<text transform="translate(12.50 43.71) rotate(-90) scale(1 0.997)" font-size="9.20" font-weight="bold">/CD138</text>
<text transform="translate(8.80 50.20) rotate(-90)" font-size="6.2" font-weight="bold" stroke="none" fill="#111">+</text>
<text transform="translate(8.80 12.00) rotate(-90)" font-size="6.2" font-weight="bold" stroke="none" fill="#111">+</text>
<text transform="translate(11.40 166.05) rotate(-90) scale(1 0.971)" font-size="8.98" font-weight="bold">CD38</text>
<text transform="translate(11.40 131.81) rotate(-90) scale(1 1.013)" font-size="8.61" font-weight="bold">/CD138</text>
<text transform="translate(8.00 139.40) rotate(-90)" font-size="6.2" font-weight="bold" stroke="none" fill="#111">+</text>
<text transform="translate(8.00 100.80) rotate(-90)" font-size="6.2" font-weight="bold" stroke="none" fill="#111">+</text>
<text transform="translate(11.40 299.95) rotate(-90) scale(1 0.966)" font-size="9.03" font-weight="bold">CD38</text>
<text transform="translate(11.40 266.32) rotate(-90) scale(1 1.032)" font-size="8.45" font-weight="bold">/CD138</text>
<text transform="translate(8.00 274.00) rotate(-90)" font-size="6.2" font-weight="bold" stroke="none" fill="#111">+</text>
<text transform="translate(8.00 235.20) rotate(-90)" font-size="6.2" font-weight="bold" stroke="none" fill="#111">+</text>
<text transform="translate(1.40 13.91) scale(0.920 1) rotate(0.03)" font-size="14.93" font-weight="bold" fill="#383838" stroke="#383838" stroke-width="0.25">*</text>
<text transform="translate(9.51 8.50) scale(1.005 1) rotate(0.03)" font-size="9.62" font-weight="bold">P1</text>
<text transform="translate(2.59 100.60) scale(1.001 1) rotate(0.03)" font-size="13.87" font-weight="bold" fill="#383838" stroke="#383838" stroke-width="0.25">**</text>
<text transform="translate(17.60 96.25) scale(1.000 1) rotate(0.03)" font-size="10.00" font-weight="bold">P2</text>
<text transform="translate(2.10 233.58) scale(0.974 1) rotate(0.03)" font-size="14.13" font-weight="bold" fill="#383838" stroke="#383838" stroke-width="0.25">**</text>
<text transform="translate(17.35 229.55) scale(1.049 1) rotate(0.03)" font-size="9.39" font-weight="bold">P2</text>
<text transform="translate(40.08 17.25) scale(1.085 1) rotate(0.03)" font-size="7.79" font-weight="bold">NT</text>
<text transform="translate(90.11 17.00) scale(1.025 1) rotate(0.03)" font-size="9.14" font-weight="bold">Melphalan</text>
<text transform="translate(38.82 106.95) scale(1.064 1) rotate(0.03)" font-size="8.32" font-weight="bold">NT</text>
<text transform="translate(91.36 106.40) scale(1.049 1) rotate(0.03)" font-size="8.85" font-weight="bold">Melphalan</text>
<text transform="translate(39.48 240.55) scale(1.041 1) rotate(0.03)" font-size="8.40" font-weight="bold">NT</text>
<text transform="translate(88.86 239.66) scale(1.082 1) rotate(0.03)" font-size="8.65" font-weight="bold">Bortezomib</text>
<text transform="translate(56.42 31.12) scale(1.031 1) rotate(0.03)" font-size="8.82" font-weight="bold">18%</text>
<text transform="translate(119.49 30.62) scale(1.033 1) rotate(0.03)" font-size="8.82" font-weight="bold">56%</text>
<text transform="translate(58.54 120.12) scale(1.005 1) rotate(0.03)" font-size="8.82" font-weight="bold">1%</text>
<text transform="translate(117.37 121.12) scale(1.063 1) rotate(0.03)" font-size="8.82" font-weight="bold">30%</text>
<text transform="translate(60.78 254.82) scale(1.010 1) rotate(0.03)" font-size="8.97" font-weight="bold">1%</text>
<text transform="translate(119.51 255.72) scale(1.014 1) rotate(0.03)" font-size="8.97" font-weight="bold">48%</text>
<text transform="translate(65.63 84.76) scale(0.998 1) rotate(0.03)" font-size="8.73" font-weight="bold">ULBP-2</text>
<text transform="translate(65.67 174.06) scale(1.068 1) rotate(0.03)" font-size="8.66" font-weight="bold">Nec-2</text>
<text transform="translate(66.31 308.06) scale(1.080 1) rotate(0.03)" font-size="8.66" font-weight="bold">Nec-2</text>
<rect x="184.80" y="163.17" width="6.82" height="11.23" fill="#808080" stroke="#1c1c1c" stroke-width="1"/>
<rect x="191.62" y="139.88" width="6.82" height="34.52" fill="#808080" stroke="#1c1c1c" stroke-width="1"/>
<rect x="198.44" y="165.63" width="6.82" height="8.77" fill="#808080" stroke="#1c1c1c" stroke-width="1"/>
<rect x="205.26" y="166.18" width="6.82" height="8.22" fill="#808080" stroke="#1c1c1c" stroke-width="1"/>
<rect x="218.90" y="163.44" width="6.82" height="10.96" fill="#808080" stroke="#1c1c1c" stroke-width="1"/>
<rect x="225.72" y="166.18" width="6.82" height="8.22" fill="#808080" stroke="#1c1c1c" stroke-width="1"/>
<rect x="238.00" y="169.19" width="6.82" height="5.21" fill="#808080" stroke="#1c1c1c" stroke-width="1"/>
<rect x="244.82" y="169.47" width="6.82" height="4.93" fill="#808080" stroke="#1c1c1c" stroke-width="1"/>
<rect x="251.64" y="169.47" width="6.82" height="4.93" fill="#808080" stroke="#1c1c1c" stroke-width="1"/>
<rect x="258.46" y="151.38" width="6.82" height="23.02" fill="#808080" stroke="#1c1c1c" stroke-width="1"/>
<rect x="265.28" y="114.12" width="6.82" height="60.28" fill="#808080" stroke="#1c1c1c" stroke-width="1"/>
<rect x="272.10" y="161.80" width="6.82" height="12.60" fill="#808080" stroke="#1c1c1c" stroke-width="1"/>
<rect x="278.92" y="26.44" width="6.82" height="147.96" fill="#808080" stroke="#1c1c1c" stroke-width="1"/>
<rect x="292.00" y="167.28" width="6.82" height="7.12" fill="#808080" stroke="#1c1c1c" stroke-width="1"/>
<rect x="298.82" y="169.47" width="6.82" height="4.93" fill="#808080" stroke="#1c1c1c" stroke-width="1"/>
<rect x="305.64" y="165.36" width="6.82" height="9.04" fill="#808080" stroke="#1c1c1c" stroke-width="1"/>
<rect x="312.46" y="169.19" width="6.82" height="5.21" fill="#808080" stroke="#1c1c1c" stroke-width="1"/>
<rect x="319.28" y="168.92" width="6.82" height="5.48" fill="#808080" stroke="#1c1c1c" stroke-width="1"/>
<rect x="326.10" y="168.10" width="6.82" height="6.30" fill="#808080" stroke="#1c1c1c" stroke-width="1"/>
<rect x="332.92" y="168.92" width="6.82" height="5.48" fill="#808080" stroke="#1c1c1c" stroke-width="1"/>
<rect x="345.30" y="162.34" width="6.82" height="12.06" fill="#808080" stroke="#1c1c1c" stroke-width="1"/>
<rect x="352.12" y="165.08" width="6.82" height="9.32" fill="#808080" stroke="#1c1c1c" stroke-width="1"/>
<rect x="358.94" y="167.55" width="6.82" height="6.85" fill="#808080" stroke="#1c1c1c" stroke-width="1"/>
<rect x="365.76" y="158.51" width="6.82" height="15.89" fill="#808080" stroke="#1c1c1c" stroke-width="1"/>
<rect x="372.58" y="151.38" width="6.82" height="23.02" fill="#808080" stroke="#1c1c1c" stroke-width="1"/>
<rect x="379.40" y="162.07" width="6.82" height="12.33" fill="#808080" stroke="#1c1c1c" stroke-width="1"/>
<rect x="386.22" y="139.05" width="6.82" height="35.35" fill="#808080" stroke="#1c1c1c" stroke-width="1"/>
<rect x="399.10" y="158.51" width="6.82" height="15.89" fill="#808080" stroke="#1c1c1c" stroke-width="1"/>
<rect x="405.92" y="163.99" width="6.82" height="10.41" fill="#808080" stroke="#1c1c1c" stroke-width="1"/>
<rect x="412.74" y="136.31" width="6.82" height="38.09" fill="#808080" stroke="#1c1c1c" stroke-width="1"/>
<rect x="419.56" y="167.28" width="6.82" height="7.12" fill="#808080" stroke="#1c1c1c" stroke-width="1"/>
<rect x="426.38" y="165.91" width="6.82" height="8.49" fill="#808080" stroke="#1c1c1c" stroke-width="1"/>
<rect x="433.20" y="165.36" width="6.82" height="9.04" fill="#808080" stroke="#1c1c1c" stroke-width="1"/>
<rect x="440.02" y="154.95" width="6.82" height="19.45" fill="#808080" stroke="#1c1c1c" stroke-width="1"/>
<line x1="180.3" y1="9.5" x2="180.3" y2="174.4" stroke="#555" stroke-width="1.3"/>
<line x1="177.3" y1="174.4" x2="450.6" y2="174.4" stroke="#222" stroke-width="1.1"/>
<line x1="180.3" y1="168.92" x2="448" y2="168.92" stroke="#222" stroke-width="0.9"/>
<line x1="177.3" y1="174.75" x2="180.3" y2="174.75" stroke="#555" stroke-width="1"/>
<text transform="translate(170.42 177.97) scale(1.000 1) rotate(0.03)" font-size="8.44" stroke-width="0.12">0</text>
<line x1="177.3" y1="147.35" x2="180.3" y2="147.35" stroke="#555" stroke-width="1"/>
<text transform="translate(170.36 150.56) scale(1.000 1) rotate(0.03)" font-size="8.57" stroke-width="0.12">5</text>
<line x1="177.3" y1="119.95" x2="180.3" y2="119.95" stroke="#555" stroke-width="1"/>
<text transform="translate(166.19 123.17) scale(1.000 1) rotate(0.03)" font-size="8.44" stroke-width="0.12">10</text>
<line x1="177.3" y1="92.55" x2="180.3" y2="92.55" stroke="#555" stroke-width="1"/>
<text transform="translate(166.13 95.76) scale(1.000 1) rotate(0.03)" font-size="8.51" stroke-width="0.12">15</text>
<line x1="177.3" y1="65.15" x2="180.3" y2="65.15" stroke="#555" stroke-width="1"/>
<text transform="translate(166.19 68.37) scale(1.000 1) rotate(0.03)" font-size="8.44" stroke-width="0.12">20</text>
<line x1="177.3" y1="37.75" x2="180.3" y2="37.75" stroke="#555" stroke-width="1"/>
<text transform="translate(166.13 40.96) scale(1.000 1) rotate(0.03)" font-size="8.51" stroke-width="0.12">25</text>
<line x1="177.3" y1="10.35" x2="180.3" y2="10.35" stroke="#555" stroke-width="1"/>
<text transform="translate(166.19 13.57) scale(1.000 1) rotate(0.03)" font-size="8.44" stroke-width="0.12">30</text>
<text transform="translate(185.96 184.50) scale(1.000 1) rotate(0.03)" font-size="9.24" font-weight="bold">1</text>
<text transform="translate(192.94 184.50) scale(1.000 1) rotate(0.03)" font-size="9.24" font-weight="bold">2</text>
<text transform="translate(199.72 184.41) scale(1.000 1) rotate(0.03)" font-size="9.24" font-weight="bold">3</text>
<text transform="translate(205.52 184.50) scale(1.000 1) rotate(0.03)" font-size="9.24" font-weight="bold">A</text>
<text transform="translate(212.66 184.45) scale(1.000 1) rotate(0.03)" font-size="9.24" font-weight="bold">B</text>
<text transform="translate(219.76 184.50) scale(1.000 1) rotate(0.03)" font-size="9.24" font-weight="bold">P</text>
<text transform="translate(225.96 184.50) scale(1.000 1) rotate(0.03)" font-size="9.24" font-weight="bold">N</text>
<text transform="translate(239.16 184.50) scale(1.000 1) rotate(0.03)" font-size="9.24" font-weight="bold">1</text>
<text transform="translate(246.14 184.50) scale(1.000 1) rotate(0.03)" font-size="9.24" font-weight="bold">2</text>
<text transform="translate(252.92 184.41) scale(1.000 1) rotate(0.03)" font-size="9.24" font-weight="bold">3</text>
<text transform="translate(258.72 184.50) scale(1.000 1) rotate(0.03)" font-size="9.24" font-weight="bold">A</text>
<text transform="translate(265.86 184.45) scale(1.000 1) rotate(0.03)" font-size="9.24" font-weight="bold">B</text>
<text transform="translate(272.96 184.50) scale(1.000 1) rotate(0.03)" font-size="9.24" font-weight="bold">P</text>
<text transform="translate(279.16 184.50) scale(1.000 1) rotate(0.03)" font-size="9.24" font-weight="bold">N</text>
<text transform="translate(293.16 184.50) scale(1.000 1) rotate(0.03)" font-size="9.24" font-weight="bold">1</text>
<text transform="translate(300.14 184.50) scale(1.000 1) rotate(0.03)" font-size="9.24" font-weight="bold">2</text>
<text transform="translate(306.92 184.41) scale(1.000 1) rotate(0.03)" font-size="9.24" font-weight="bold">3</text>
<text transform="translate(312.72 184.50) scale(1.000 1) rotate(0.03)" font-size="9.24" font-weight="bold">A</text>
<text transform="translate(319.86 184.45) scale(1.000 1) rotate(0.03)" font-size="9.24" font-weight="bold">B</text>
<text transform="translate(326.96 184.50) scale(1.000 1) rotate(0.03)" font-size="9.24" font-weight="bold">P</text>
<text transform="translate(333.16 184.50) scale(1.000 1) rotate(0.03)" font-size="9.24" font-weight="bold">N</text>
<text transform="translate(346.46 184.50) scale(1.000 1) rotate(0.03)" font-size="9.24" font-weight="bold">1</text>
<text transform="translate(353.44 184.50) scale(1.000 1) rotate(0.03)" font-size="9.24" font-weight="bold">2</text>
<text transform="translate(360.22 184.41) scale(1.000 1) rotate(0.03)" font-size="9.24" font-weight="bold">3</text>
<text transform="translate(366.02 184.50) scale(1.000 1) rotate(0.03)" font-size="9.24" font-weight="bold">A</text>
<text transform="translate(373.16 184.45) scale(1.000 1) rotate(0.03)" font-size="9.24" font-weight="bold">B</text>
<text transform="translate(380.26 184.50) scale(1.000 1) rotate(0.03)" font-size="9.24" font-weight="bold">P</text>
<text transform="translate(386.46 184.50) scale(1.000 1) rotate(0.03)" font-size="9.24" font-weight="bold">N</text>
<text transform="translate(400.26 184.50) scale(1.000 1) rotate(0.03)" font-size="9.24" font-weight="bold">1</text>
<text transform="translate(407.24 184.50) scale(1.000 1) rotate(0.03)" font-size="9.24" font-weight="bold">2</text>
<text transform="translate(414.02 184.41) scale(1.000 1) rotate(0.03)" font-size="9.24" font-weight="bold">3</text>
<text transform="translate(419.82 184.50) scale(1.000 1) rotate(0.03)" font-size="9.24" font-weight="bold">A</text>
<text transform="translate(426.96 184.45) scale(1.000 1) rotate(0.03)" font-size="9.24" font-weight="bold">B</text>
<text transform="translate(434.06 184.50) scale(1.000 1) rotate(0.03)" font-size="9.24" font-weight="bold">P</text>
<text transform="translate(440.26 184.50) scale(1.000 1) rotate(0.03)" font-size="9.24" font-weight="bold">N</text>
<path d="M187.4 36.8 V17.5 H231.4 V36.8" fill="none" stroke="#444" stroke-width="1"/>
<text transform="translate(203.31 12.25) scale(0.997 1) rotate(0.03)" font-size="9.70" font-weight="bold">P1</text>
<path d="M242.6 36.8 V17.5 H287.6 V36.8" fill="none" stroke="#444" stroke-width="1"/>
<text transform="translate(257.51 12.25) scale(0.992 1) rotate(0.03)" font-size="9.70" font-weight="bold">P2</text>
<path d="M294.4 36.8 V17.5 H338.6 V36.8" fill="none" stroke="#444" stroke-width="1"/>
<text transform="translate(310.31 12.15) scale(0.997 1) rotate(0.03)" font-size="9.55" font-weight="bold">P3</text>
<path d="M348.4 36.8 V17.5 H393 V36.8" fill="none" stroke="#444" stroke-width="1"/>
<text transform="translate(364.51 12.15) scale(0.990 1) rotate(0.03)" font-size="9.62" font-weight="bold">P5</text>
<path d="M401 36.8 V17.5 H445.6 V36.8" fill="none" stroke="#444" stroke-width="1"/>
<text transform="translate(417.81 12.15) scale(0.993 1) rotate(0.03)" font-size="9.55" font-weight="bold">P6</text>
<rect x="184.00" y="406.73" width="8.08" height="1.47" fill="#fff" stroke="#1c1c1c" stroke-width="1"/>
<rect x="192.08" y="406.73" width="8.08" height="1.47" fill="#fff" stroke="#1c1c1c" stroke-width="1"/>
<rect x="200.16" y="406.73" width="8.08" height="1.47" fill="#fff" stroke="#1c1c1c" stroke-width="1"/>
<rect x="208.24" y="404.54" width="8.08" height="3.66" fill="#fff" stroke="#1c1c1c" stroke-width="1"/>
<rect x="216.32" y="401.42" width="8.08" height="6.78" fill="#fff" stroke="#1c1c1c" stroke-width="1"/>
<rect x="224.40" y="406.37" width="8.08" height="1.83" fill="#fff" stroke="#1c1c1c" stroke-width="1"/>
<rect x="232.48" y="241.49" width="8.08" height="166.71" fill="#fff" stroke="#1c1c1c" stroke-width="1"/>
<rect x="248.50" y="388.60" width="8.08" height="19.60" fill="#fff" stroke="#1c1c1c" stroke-width="1"/>
<rect x="256.58" y="386.58" width="8.08" height="21.62" fill="#fff" stroke="#1c1c1c" stroke-width="1"/>
<rect x="264.66" y="398.49" width="8.08" height="9.71" fill="#fff" stroke="#1c1c1c" stroke-width="1"/>
<rect x="272.74" y="407.28" width="8.08" height="0.92" fill="#fff" stroke="#1c1c1c" stroke-width="1"/>
<rect x="280.82" y="399.77" width="8.08" height="8.43" fill="#fff" stroke="#1c1c1c" stroke-width="1"/>
<rect x="288.90" y="393.73" width="8.08" height="14.47" fill="#fff" stroke="#1c1c1c" stroke-width="1"/>
<rect x="296.98" y="395.74" width="8.08" height="12.46" fill="#fff" stroke="#1c1c1c" stroke-width="1"/>
<rect x="312.90" y="406.73" width="8.08" height="1.47" fill="#fff" stroke="#1c1c1c" stroke-width="1"/>
<rect x="320.98" y="406.73" width="8.08" height="1.47" fill="#fff" stroke="#1c1c1c" stroke-width="1"/>
<rect x="329.06" y="406.73" width="8.08" height="1.47" fill="#fff" stroke="#1c1c1c" stroke-width="1"/>
<rect x="337.14" y="403.62" width="8.08" height="4.58" fill="#fff" stroke="#1c1c1c" stroke-width="1"/>
<rect x="345.22" y="400.32" width="8.08" height="7.88" fill="#fff" stroke="#1c1c1c" stroke-width="1"/>
<rect x="353.30" y="406.55" width="8.08" height="1.65" fill="#fff" stroke="#1c1c1c" stroke-width="1"/>
<rect x="361.38" y="395.01" width="8.08" height="13.19" fill="#fff" stroke="#1c1c1c" stroke-width="1"/>
<rect x="377.50" y="403.62" width="8.08" height="4.58" fill="#fff" stroke="#1c1c1c" stroke-width="1"/>
<rect x="385.58" y="406.55" width="8.08" height="1.65" fill="#fff" stroke="#1c1c1c" stroke-width="1"/>
<rect x="393.66" y="402.70" width="8.08" height="5.50" fill="#fff" stroke="#1c1c1c" stroke-width="1"/>
<rect x="401.74" y="406.37" width="8.08" height="1.83" fill="#fff" stroke="#1c1c1c" stroke-width="1"/>
<rect x="409.82" y="407.47" width="8.08" height="0.73" fill="#fff" stroke="#1c1c1c" stroke-width="1"/>
<rect x="417.90" y="407.47" width="8.08" height="0.73" fill="#fff" stroke="#1c1c1c" stroke-width="1"/>
<rect x="425.98" y="406.00" width="8.08" height="2.20" fill="#fff" stroke="#1c1c1c" stroke-width="1"/>
<line x1="178.5" y1="224.49999999999997" x2="178.5" y2="408.2" stroke="#333" stroke-width="1.3"/>
<line x1="175" y1="408.2" x2="449.8" y2="408.2" stroke="#222" stroke-width="1.1"/>
<line x1="178.5" y1="406.37" x2="446.3" y2="406.37" stroke="#222" stroke-width="0.9"/>
<line x1="175.3" y1="408.20" x2="178.5" y2="408.20" stroke="#555" stroke-width="1"/>
<text transform="translate(166.05 411.21) scale(1.100 1) rotate(0.03)" font-size="8.59" stroke-width="0.12">0</text>
<line x1="175.3" y1="389.88" x2="178.5" y2="389.88" stroke="#555" stroke-width="1"/>
<text transform="translate(161.33 392.89) scale(1.100 1) rotate(0.03)" font-size="8.59" stroke-width="0.12">10</text>
<line x1="175.3" y1="371.56" x2="178.5" y2="371.56" stroke="#555" stroke-width="1"/>
<text transform="translate(161.33 374.57) scale(1.100 1) rotate(0.03)" font-size="8.59" stroke-width="0.12">20</text>
<line x1="175.3" y1="353.24" x2="178.5" y2="353.24" stroke="#555" stroke-width="1"/>
<text transform="translate(161.33 356.25) scale(1.100 1) rotate(0.03)" font-size="8.59" stroke-width="0.12">30</text>
<line x1="175.3" y1="334.92" x2="178.5" y2="334.92" stroke="#555" stroke-width="1"/>
<text transform="translate(161.33 337.93) scale(1.100 1) rotate(0.03)" font-size="8.59" stroke-width="0.12">40</text>
<line x1="175.3" y1="316.60" x2="178.5" y2="316.60" stroke="#555" stroke-width="1"/>
<text transform="translate(161.33 319.61) scale(1.100 1) rotate(0.03)" font-size="8.59" stroke-width="0.12">50</text>
<line x1="175.3" y1="298.28" x2="178.5" y2="298.28" stroke="#555" stroke-width="1"/>
<text transform="translate(161.33 301.29) scale(1.100 1) rotate(0.03)" font-size="8.59" stroke-width="0.12">60</text>
<line x1="175.3" y1="279.96" x2="178.5" y2="279.96" stroke="#555" stroke-width="1"/>
<text transform="translate(161.33 282.97) scale(1.100 1) rotate(0.03)" font-size="8.59" stroke-width="0.12">70</text>
<line x1="175.3" y1="261.64" x2="178.5" y2="261.64" stroke="#555" stroke-width="1"/>
<text transform="translate(161.33 264.65) scale(1.100 1) rotate(0.03)" font-size="8.59" stroke-width="0.12">80</text>
<line x1="175.3" y1="243.32" x2="178.5" y2="243.32" stroke="#555" stroke-width="1"/>
<text transform="translate(161.33 246.33) scale(1.100 1) rotate(0.03)" font-size="8.59" stroke-width="0.12">90</text>
<line x1="175.3" y1="225.00" x2="178.5" y2="225.00" stroke="#555" stroke-width="1"/>
<text transform="translate(156.60 228.01) scale(1.100 1) rotate(0.03)" font-size="8.59" stroke-width="0.12">100</text>
<text transform="translate(186.37 418.90) scale(1.000 1) rotate(0.03)" font-size="8.94" font-weight="bold">1</text>
<text transform="translate(194.31 418.90) scale(1.000 1) rotate(0.03)" font-size="8.94" font-weight="bold">2</text>
<text transform="translate(202.34 418.81) scale(1.000 1) rotate(0.03)" font-size="8.94" font-weight="bold">3</text>
<text transform="translate(210.14 418.90) scale(1.000 1) rotate(0.03)" font-size="8.94" font-weight="bold">A</text>
<text transform="translate(219.03 418.86) scale(1.000 1) rotate(0.03)" font-size="8.94" font-weight="bold">B</text>
<text transform="translate(226.98 418.90) scale(1.000 1) rotate(0.03)" font-size="8.94" font-weight="bold">P</text>
<text transform="translate(233.26 418.90) scale(1.000 1) rotate(0.03)" font-size="8.94" font-weight="bold">N</text>
<text transform="translate(250.57 418.90) scale(1.000 1) rotate(0.03)" font-size="8.94" font-weight="bold">1</text>
<text transform="translate(259.41 418.90) scale(1.000 1) rotate(0.03)" font-size="8.94" font-weight="bold">2</text>
<text transform="translate(267.49 418.81) scale(1.000 1) rotate(0.03)" font-size="8.94" font-weight="bold">3</text>
<text transform="translate(274.04 418.90) scale(1.000 1) rotate(0.03)" font-size="8.94" font-weight="bold">A</text>
<text transform="translate(283.03 418.86) scale(1.000 1) rotate(0.03)" font-size="8.94" font-weight="bold">B</text>
<text transform="translate(291.13 418.90) scale(1.000 1) rotate(0.03)" font-size="8.94" font-weight="bold">P</text>
<text transform="translate(299.96 418.90) scale(1.000 1) rotate(0.03)" font-size="8.94" font-weight="bold">N</text>
<text transform="translate(315.87 418.90) scale(1.000 1) rotate(0.03)" font-size="8.94" font-weight="bold">1</text>
<text transform="translate(325.01 418.90) scale(1.000 1) rotate(0.03)" font-size="8.94" font-weight="bold">2</text>
<text transform="translate(332.74 418.81) scale(1.000 1) rotate(0.03)" font-size="8.94" font-weight="bold">3</text>
<text transform="translate(339.24 418.90) scale(1.000 1) rotate(0.03)" font-size="8.94" font-weight="bold">A</text>
<text transform="translate(348.03 418.86) scale(1.000 1) rotate(0.03)" font-size="8.94" font-weight="bold">B</text>
<text transform="translate(356.08 418.90) scale(1.000 1) rotate(0.03)" font-size="8.94" font-weight="bold">P</text>
<text transform="translate(364.86 418.90) scale(1.000 1) rotate(0.03)" font-size="8.94" font-weight="bold">N</text>
<text transform="translate(379.57 418.90) scale(1.000 1) rotate(0.03)" font-size="8.94" font-weight="bold">1</text>
<text transform="translate(388.41 418.90) scale(1.000 1) rotate(0.03)" font-size="8.94" font-weight="bold">2</text>
<text transform="translate(397.14 418.81) scale(1.000 1) rotate(0.03)" font-size="8.94" font-weight="bold">3</text>
<text transform="translate(403.04 418.90) scale(1.000 1) rotate(0.03)" font-size="8.94" font-weight="bold">A</text>
<text transform="translate(412.03 418.86) scale(1.000 1) rotate(0.03)" font-size="8.94" font-weight="bold">B</text>
<text transform="translate(420.38 418.90) scale(1.000 1) rotate(0.03)" font-size="8.94" font-weight="bold">P</text>
<text transform="translate(428.66 418.90) scale(1.000 1) rotate(0.03)" font-size="8.94" font-weight="bold">N</text>
<path d="M181 251.6 V232.8 H244.3 V251.6" fill="none" stroke="#444" stroke-width="1"/>
<text transform="translate(206.10 227.25) scale(1.100 1) rotate(0.03)" font-size="9.09" font-weight="bold">P2</text>
<path d="M248.4 251.6 V232.8 H311.6 V251.6" fill="none" stroke="#444" stroke-width="1"/>
<text transform="translate(274.30 227.25) scale(1.074 1) rotate(0.03)" font-size="9.09" font-weight="bold">P4</text>
<path d="M315.6 251.6 V232.8 H379 V251.6" fill="none" stroke="#444" stroke-width="1"/>
<text transform="translate(342.10 227.16) scale(1.098 1) rotate(0.03)" font-size="9.02" font-weight="bold">P5</text>
<path d="M383 251.6 V232.8 H446.4 V251.6" fill="none" stroke="#444" stroke-width="1"/>
<text transform="translate(409.10 227.16) scale(1.101 1) rotate(0.03)" font-size="8.96" font-weight="bold">P6</text>
<text transform="translate(162.80 144.03) rotate(-90) scale(1 0.933)" font-size="9.43" font-weight="bold">specific MFI (fold increase)</text>
<text transform="translate(158.50 366.29) rotate(-90) scale(1 0.891)" font-size="9.55" font-weight="bold">specific MFI (fold increase)</text>
<text transform="translate(192.26 142.50) scale(0.886 1) rotate(0.03)" font-size="13.87" font-weight="bold" fill="#383838" stroke="#383838" stroke-width="0.25">*</text>
<text transform="translate(274.75 29.78) scale(0.889 1) rotate(0.03)" font-size="14.13" font-weight="bold" fill="#383838" stroke="#383838" stroke-width="0.25">**</text>
<text transform="translate(230.70 244.23) scale(1.005 1) rotate(0.03)" font-size="13.60" font-weight="bold" fill="#383838" stroke="#383838" stroke-width="0.25">**</text>
<rect x="460.8" y="17.8" width="7.3" height="7.4" fill="#808080" stroke="#222" stroke-width="1"/>
<text transform="translate(471.91 25.30) scale(0.962 1) rotate(0.03)" font-size="9.71" font-weight="bold">Melphalan</text>
<rect x="461.1" y="235" width="7.6" height="7.2" fill="#fff" stroke="#222" stroke-width="1"/>
<text transform="translate(472.11 241.76) scale(1.067 1) rotate(0.03)" font-size="8.94" font-weight="bold">Bortezomib</text>
</svg>
</body></html>
